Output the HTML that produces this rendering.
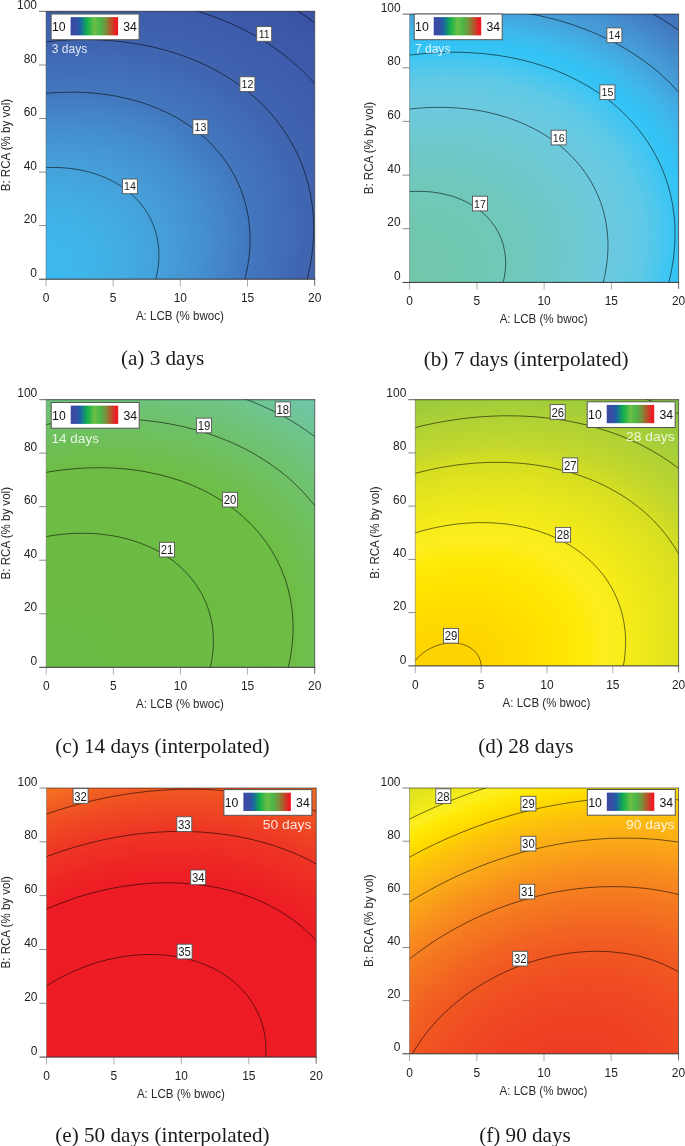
<!DOCTYPE html>
<html><head><meta charset="utf-8"><title>Contour plots</title>
<style>
html,body{margin:0;padding:0;background:#fff}
svg{display:block;will-change:transform}
text{font-family:"Liberation Sans",sans-serif;fill:#222}
.t{font-size:13px}
.b{fill:#1c1c1c}
.a{font-size:12.7px;fill:#2a2a2a}
.l{font-size:13.2px;fill:#111}
.d{fill:#fff;fill-opacity:.84}
.c{font-family:"Liberation Serif",serif;font-size:21.15px;fill:#1a1a1a}
</style></head><body>
<svg width="685" height="1146" viewBox="0 0 685 1146">
<defs><linearGradient id="lg" x1="0" x2="1" y1="0" y2="0"><stop offset="0" stop-color="#3a4aa4"/><stop offset="0.12" stop-color="#394da5"/><stop offset="0.2" stop-color="#1b62a6"/><stop offset="0.35" stop-color="#12b04b"/><stop offset="0.5" stop-color="#6cbf45"/><stop offset="0.62" stop-color="#4bb648"/><stop offset="0.74" stop-color="#7a8f3b"/><stop offset="0.85" stop-color="#b5542a"/><stop offset="0.95" stop-color="#ec1c24"/><stop offset="1" stop-color="#ec1c24"/></linearGradient><radialGradient id="ga" gradientUnits="userSpaceOnUse" cx="0" cy="0" r="1" gradientTransform="matrix(-382.3824 167.8018 -126.8699 -287.1743 25.157 277.858)"><stop offset="0.0000" stop-color="#3cb9ed"/><stop offset="0.0975" stop-color="#3eb8ec"/><stop offset="0.1862" stop-color="#40b2e8"/><stop offset="0.2447" stop-color="#42ace3"/><stop offset="0.2916" stop-color="#44a6de"/><stop offset="0.3320" stop-color="#46a0da"/><stop offset="0.3679" stop-color="#469bd6"/><stop offset="0.4007" stop-color="#4596d3"/><stop offset="0.4310" stop-color="#4491d0"/><stop offset="0.4593" stop-color="#448ccc"/><stop offset="0.4859" stop-color="#4486c8"/><stop offset="0.5111" stop-color="#4381c5"/><stop offset="0.5352" stop-color="#427cc2"/><stop offset="0.5582" stop-color="#4277be"/><stop offset="0.5803" stop-color="#4274bc"/><stop offset="0.6016" stop-color="#4172ba"/><stop offset="0.6222" stop-color="#416fb8"/><stop offset="0.6421" stop-color="#416cb6"/><stop offset="0.6614" stop-color="#416ab4"/><stop offset="0.6802" stop-color="#4067b2"/><stop offset="0.6948" stop-color="#4065b0"/><stop offset="0.6985" stop-color="#4065b0"/><stop offset="0.7162" stop-color="#4064af"/><stop offset="0.7336" stop-color="#3f63af"/><stop offset="0.7506" stop-color="#3f62ae"/><stop offset="0.7672" stop-color="#3f60ad"/><stop offset="0.7834" stop-color="#3e5fad"/><stop offset="0.7993" stop-color="#3e5eac"/><stop offset="0.8149" stop-color="#3e5dab"/><stop offset="0.8302" stop-color="#3d5cab"/><stop offset="0.8452" stop-color="#3d5baa"/><stop offset="0.8600" stop-color="#3d5aa9"/><stop offset="0.8745" stop-color="#3c59a8"/><stop offset="0.8888" stop-color="#3c58a8"/><stop offset="0.9028" stop-color="#3c57a7"/><stop offset="0.9167" stop-color="#3b56a6"/><stop offset="0.9303" stop-color="#3b55a6"/><stop offset="0.9437" stop-color="#3a54a5"/><stop offset="0.9570" stop-color="#3a53a4"/><stop offset="0.9700" stop-color="#3a53a4"/><stop offset="0.9829" stop-color="#3a52a4"/><stop offset="0.9957" stop-color="#3a52a4"/><stop offset="1.0000" stop-color="#3a52a4"/></radialGradient><clipPath id="ca"><rect x="46.0" y="11.4" width="268.7" height="267.8"/></clipPath><radialGradient id="gb" gradientUnits="userSpaceOnUse" cx="0" cy="0" r="1" gradientTransform="matrix(-381.7987 164.2351 -123.5225 -285.6614 395.524 281.766)"><stop offset="0.0000" stop-color="#70c7aa"/><stop offset="0.1552" stop-color="#70c7af"/><stop offset="0.2230" stop-color="#70c8b4"/><stop offset="0.2745" stop-color="#70c8b9"/><stop offset="0.3177" stop-color="#70c8be"/><stop offset="0.3558" stop-color="#6fc8c2"/><stop offset="0.3901" stop-color="#6ec8c7"/><stop offset="0.4217" stop-color="#6ec8cc"/><stop offset="0.4510" stop-color="#6ec9d0"/><stop offset="0.4786" stop-color="#6dc9d5"/><stop offset="0.5046" stop-color="#6cc9d9"/><stop offset="0.5294" stop-color="#6cc9de"/><stop offset="0.5531" stop-color="#69c9e0"/><stop offset="0.5758" stop-color="#66c9e2"/><stop offset="0.5976" stop-color="#62c9e4"/><stop offset="0.6186" stop-color="#5fc9e6"/><stop offset="0.6390" stop-color="#55c8ea"/><stop offset="0.6588" stop-color="#4cc7ee"/><stop offset="0.6779" stop-color="#42c6f2"/><stop offset="0.6817" stop-color="#40c6f3"/><stop offset="0.6966" stop-color="#3ac5f3"/><stop offset="0.7147" stop-color="#33c3f4"/><stop offset="0.7183" stop-color="#32c3f4"/><stop offset="0.7324" stop-color="#35c0f2"/><stop offset="0.7497" stop-color="#3abcef"/><stop offset="0.7666" stop-color="#3eb8ec"/><stop offset="0.7831" stop-color="#40b2e8"/><stop offset="0.7993" stop-color="#42ace3"/><stop offset="0.8152" stop-color="#44a6de"/><stop offset="0.8307" stop-color="#46a0da"/><stop offset="0.8460" stop-color="#469bd6"/><stop offset="0.8610" stop-color="#4596d3"/><stop offset="0.8758" stop-color="#4491d0"/><stop offset="0.8903" stop-color="#448ccc"/><stop offset="0.9045" stop-color="#4486c8"/><stop offset="0.9186" stop-color="#4381c5"/><stop offset="0.9324" stop-color="#427cc2"/><stop offset="0.9461" stop-color="#4277be"/><stop offset="0.9595" stop-color="#4274bc"/><stop offset="0.9728" stop-color="#4172ba"/><stop offset="0.9858" stop-color="#416fb8"/><stop offset="0.9988" stop-color="#416cb6"/><stop offset="1.0000" stop-color="#416cb6"/></radialGradient><clipPath id="cb"><rect x="409.6" y="14.1" width="269.0" height="268.3"/></clipPath><radialGradient id="gc" gradientUnits="userSpaceOnUse" cx="0" cy="0" r="1" gradientTransform="matrix(-373.7449 161.1816 -121.6827 -280.4767 48.475 669.001)"><stop offset="0.0000" stop-color="#6bbc44"/><stop offset="0.1331" stop-color="#6bbc44"/><stop offset="0.2100" stop-color="#6cbc44"/><stop offset="0.2655" stop-color="#6cbc44"/><stop offset="0.3113" stop-color="#6cbc44"/><stop offset="0.3511" stop-color="#6cbc44"/><stop offset="0.3869" stop-color="#6cbc44"/><stop offset="0.4196" stop-color="#6cbc44"/><stop offset="0.4500" stop-color="#6dbd45"/><stop offset="0.4784" stop-color="#6dbd45"/><stop offset="0.5052" stop-color="#6dbd45"/><stop offset="0.5307" stop-color="#6dbd45"/><stop offset="0.5550" stop-color="#6dbd45"/><stop offset="0.5783" stop-color="#6ebd45"/><stop offset="0.6007" stop-color="#6ebd45"/><stop offset="0.6223" stop-color="#6ebd45"/><stop offset="0.6431" stop-color="#6ebe4a"/><stop offset="0.6633" stop-color="#6ebe4e"/><stop offset="0.6829" stop-color="#6ebe52"/><stop offset="0.7020" stop-color="#6ebf57"/><stop offset="0.7205" stop-color="#6fc05c"/><stop offset="0.7386" stop-color="#6fc060"/><stop offset="0.7563" stop-color="#6fc064"/><stop offset="0.7735" stop-color="#6fc169"/><stop offset="0.7904" stop-color="#6fc26e"/><stop offset="0.8069" stop-color="#6fc273"/><stop offset="0.8231" stop-color="#6fc278"/><stop offset="0.8390" stop-color="#6fc37d"/><stop offset="0.8546" stop-color="#6fc482"/><stop offset="0.8699" stop-color="#6fc487"/><stop offset="0.8849" stop-color="#6fc48c"/><stop offset="0.8997" stop-color="#6fc591"/><stop offset="0.9143" stop-color="#6fc596"/><stop offset="0.9286" stop-color="#6fc69b"/><stop offset="0.9427" stop-color="#6fc6a0"/><stop offset="0.9566" stop-color="#70c6a5"/><stop offset="0.9703" stop-color="#70c7aa"/><stop offset="0.9838" stop-color="#70c7af"/><stop offset="0.9971" stop-color="#70c8b4"/><stop offset="1.0000" stop-color="#70c8b5"/></radialGradient><clipPath id="cc"><rect x="46.2" y="399.6" width="268.5" height="267.7"/></clipPath><radialGradient id="gd" gradientUnits="userSpaceOnUse" cx="0" cy="0" r="1" gradientTransform="matrix(-358.9997 156.4907 -116.1916 -272.6597 444.581 673.427)"><stop offset="0.0000" stop-color="#ffd201"/><stop offset="0.0970" stop-color="#ffd400"/><stop offset="0.1923" stop-color="#ffda00"/><stop offset="0.2541" stop-color="#ffe000"/><stop offset="0.2750" stop-color="#ffe200"/><stop offset="0.3036" stop-color="#ffe402"/><stop offset="0.3461" stop-color="#ffe805"/><stop offset="0.3617" stop-color="#ffea06"/><stop offset="0.3839" stop-color="#feeb0e"/><stop offset="0.4183" stop-color="#fded1c"/><stop offset="0.4313" stop-color="#fcee21"/><stop offset="0.4501" stop-color="#faed1e"/><stop offset="0.4798" stop-color="#f7ec19"/><stop offset="0.5077" stop-color="#f3ea1a"/><stop offset="0.5342" stop-color="#eee81a"/><stop offset="0.5594" stop-color="#eae71b"/><stop offset="0.5836" stop-color="#e6e51c"/><stop offset="0.6067" stop-color="#e2e31e"/><stop offset="0.6291" stop-color="#dee21f"/><stop offset="0.6506" stop-color="#d9e020"/><stop offset="0.6715" stop-color="#d5de22"/><stop offset="0.6917" stop-color="#cfdc26"/><stop offset="0.7114" stop-color="#c8d929"/><stop offset="0.7306" stop-color="#c2d72d"/><stop offset="0.7313" stop-color="#c2d72d"/><stop offset="0.7492" stop-color="#bed62f"/><stop offset="0.7674" stop-color="#bad530"/><stop offset="0.7852" stop-color="#b6d332"/><stop offset="0.8025" stop-color="#b2d234"/><stop offset="0.8196" stop-color="#aed135"/><stop offset="0.8362" stop-color="#aad037"/><stop offset="0.8526" stop-color="#a6ce39"/><stop offset="0.8686" stop-color="#a2cd3a"/><stop offset="0.8843" stop-color="#9ecc3c"/><stop offset="0.8998" stop-color="#9acb3d"/><stop offset="0.9150" stop-color="#96c93d"/><stop offset="0.9300" stop-color="#92c83e"/><stop offset="0.9447" stop-color="#8ec73f"/><stop offset="0.9505" stop-color="#8cc63f"/><stop offset="0.9592" stop-color="#8ac53f"/><stop offset="0.9735" stop-color="#86c440"/><stop offset="0.9875" stop-color="#82c340"/><stop offset="1.0000" stop-color="#7ec241"/></radialGradient><clipPath id="cd"><rect x="415.3" y="399.6" width="263.3" height="266.3"/></clipPath><radialGradient id="ge" gradientUnits="userSpaceOnUse" cx="0" cy="0" r="1" gradientTransform="matrix(-365.1432 157.3227 -119.2282 -275.4968 120.979 1074.195)"><stop offset="0.0000" stop-color="#ed1c24"/><stop offset="0.0625" stop-color="#ed1c24"/><stop offset="0.1778" stop-color="#ed1c24"/><stop offset="0.2435" stop-color="#ed1c24"/><stop offset="0.2950" stop-color="#ed1c24"/><stop offset="0.3387" stop-color="#ed1c24"/><stop offset="0.3773" stop-color="#ed1c24"/><stop offset="0.4124" stop-color="#ed1c24"/><stop offset="0.4447" stop-color="#ed1c24"/><stop offset="0.4748" stop-color="#ed1c24"/><stop offset="0.5032" stop-color="#ed1c24"/><stop offset="0.5300" stop-color="#ed1c24"/><stop offset="0.5555" stop-color="#ed1c24"/><stop offset="0.5799" stop-color="#ed1c24"/><stop offset="0.6033" stop-color="#ed1c24"/><stop offset="0.6258" stop-color="#ed1f24"/><stop offset="0.6476" stop-color="#ed2224"/><stop offset="0.6686" stop-color="#ed2524"/><stop offset="0.6890" stop-color="#ee2824"/><stop offset="0.7088" stop-color="#ee2c24"/><stop offset="0.7281" stop-color="#ee2f24"/><stop offset="0.7469" stop-color="#ee3224"/><stop offset="0.7652" stop-color="#ee3524"/><stop offset="0.7831" stop-color="#ee3924"/><stop offset="0.8006" stop-color="#ee3e24"/><stop offset="0.8177" stop-color="#ef4223"/><stop offset="0.8344" stop-color="#ef4623"/><stop offset="0.8509" stop-color="#ef4a23"/><stop offset="0.8670" stop-color="#f04e22"/><stop offset="0.8828" stop-color="#f05322"/><stop offset="0.8984" stop-color="#f05722"/><stop offset="0.9137" stop-color="#f15c22"/><stop offset="0.9287" stop-color="#f26122"/><stop offset="0.9435" stop-color="#f26621"/><stop offset="0.9581" stop-color="#f36c21"/><stop offset="0.9724" stop-color="#f47121"/><stop offset="0.9865" stop-color="#f47620"/><stop offset="1.0000" stop-color="#f57b20"/></radialGradient><clipPath id="ce"><rect x="46.5" y="788.0" width="269.7" height="269.1"/></clipPath><radialGradient id="gf" gradientUnits="userSpaceOnUse" cx="0" cy="0" r="1" gradientTransform="matrix(-421.8477 181.9340 -138.7859 -314.1902 562.537 1088.397)"><stop offset="0.0000" stop-color="#ee3a24"/><stop offset="0.1331" stop-color="#ee3e24"/><stop offset="0.1963" stop-color="#ef4223"/><stop offset="0.2436" stop-color="#ef4623"/><stop offset="0.2831" stop-color="#ef4a23"/><stop offset="0.3177" stop-color="#f04e22"/><stop offset="0.3489" stop-color="#f05322"/><stop offset="0.3775" stop-color="#f05722"/><stop offset="0.4041" stop-color="#f15c22"/><stop offset="0.4291" stop-color="#f26122"/><stop offset="0.4527" stop-color="#f26621"/><stop offset="0.4751" stop-color="#f36c21"/><stop offset="0.4965" stop-color="#f47121"/><stop offset="0.5171" stop-color="#f47620"/><stop offset="0.5368" stop-color="#f57b20"/><stop offset="0.5558" stop-color="#f68020"/><stop offset="0.5742" stop-color="#f7861f"/><stop offset="0.5921" stop-color="#f78b1e"/><stop offset="0.6094" stop-color="#f8901d"/><stop offset="0.6262" stop-color="#f8961c"/><stop offset="0.6426" stop-color="#f99c1a"/><stop offset="0.6586" stop-color="#faa119"/><stop offset="0.6742" stop-color="#faa618"/><stop offset="0.6895" stop-color="#fbac17"/><stop offset="0.7044" stop-color="#fbb015"/><stop offset="0.7190" stop-color="#fcb512"/><stop offset="0.7333" stop-color="#fcb910"/><stop offset="0.7474" stop-color="#fcbe0e"/><stop offset="0.7612" stop-color="#fdc20b"/><stop offset="0.7693" stop-color="#fdc50a"/><stop offset="0.7747" stop-color="#fdc808"/><stop offset="0.7880" stop-color="#fece04"/><stop offset="0.8011" stop-color="#ffd400"/><stop offset="0.8140" stop-color="#ffda00"/><stop offset="0.8267" stop-color="#ffe000"/><stop offset="0.8317" stop-color="#ffe200"/><stop offset="0.8392" stop-color="#ffe402"/><stop offset="0.8515" stop-color="#ffe805"/><stop offset="0.8563" stop-color="#ffea06"/><stop offset="0.8636" stop-color="#feeb0e"/><stop offset="0.8756" stop-color="#fded1c"/><stop offset="0.8803" stop-color="#fcee21"/><stop offset="0.8874" stop-color="#faed1e"/><stop offset="0.8990" stop-color="#f7ec19"/><stop offset="0.9105" stop-color="#f3ea1a"/><stop offset="0.9219" stop-color="#eee81a"/><stop offset="0.9331" stop-color="#eae71b"/><stop offset="0.9442" stop-color="#e6e51c"/><stop offset="0.9551" stop-color="#e2e31e"/><stop offset="0.9659" stop-color="#dee21f"/><stop offset="0.9766" stop-color="#d9e020"/><stop offset="0.9872" stop-color="#d5de22"/><stop offset="0.9977" stop-color="#cfdc26"/><stop offset="1.0000" stop-color="#cddb26"/></radialGradient><clipPath id="cf"><rect x="409.5" y="788.0" width="269.0" height="265.8"/></clipPath></defs>
<rect width="685" height="1146" fill="#fff"/>
<g><rect x="46.0" y="11.4" width="268.7" height="267.8" fill="url(#ga)"/><g clip-path="url(#ca)"><path d="M-340.8 438.4 L-343.8 431.2 L-346.6 423.8 L-349.2 416.4 L-351.5 408.8 L-353.5 401.2 L-355.3 393.5 L-356.8 385.7 L-358.0 377.8 L-359.0 369.8 L-359.7 361.8 L-360.2 353.8 L-360.4 345.7 L-360.3 337.5 L-360.0 329.3 L-359.4 321.0 L-358.5 312.8 L-357.4 304.5 L-356.0 296.2 L-354.4 287.8 L-352.5 279.5 L-350.3 271.2 L-347.9 262.9 L-345.2 254.5 L-342.3 246.2 L-339.1 238.0 L-335.6 229.7 L-332.0 221.5 L-328.0 213.3 L-323.9 205.2 L-319.4 197.1 L-314.8 189.0 L-309.9 181.1 L-304.8 173.2 L-299.5 165.3 L-293.9 157.6 L-288.2 149.9 L-282.2 142.3 L-276.0 134.8 L-269.6 127.4 L-263.0 120.1 L-256.2 113.0 L-249.2 105.9 L-242.0 98.9 L-234.6 92.1 L-227.0 85.4 L-219.3 78.8 L-211.4 72.4 L-203.4 66.1 L-195.2 60.0 L-186.8 54.0 L-178.3 48.1 L-169.7 42.4 L-160.9 36.9 L-152.0 31.5 L-143.0 26.3 L-133.8 21.3 L-124.6 16.5 L-115.2 11.8 L-105.8 7.3 L-96.3 3.0 L-86.6 -1.1 L-76.9 -5.0 L-67.2 -8.7 L-57.3 -12.2 L-47.5 -15.6 L-37.5 -18.7 L-27.5 -21.6 L-17.5 -24.3 L-7.5 -26.9 L2.6 -29.2 L12.7 -31.3 L22.8 -33.1 L32.9 -34.8 L42.9 -36.3 L53.0 -37.5 L63.1 -38.5 L73.1 -39.3 L83.1 -39.9 L93.1 -40.3 L103.0 -40.4 L112.8 -40.4 L122.6 -40.1 L132.4 -39.6 L142.0 -38.9 L151.6 -37.9 L161.1 -36.8 L170.5 -35.4 L179.8 -33.8 L189.0 -32.0 L198.1 -30.0 L207.0 -27.8 L215.9 -25.4 L224.6 -22.7 L233.1 -19.9 L241.6 -16.8 L249.8 -13.6 L258.0 -10.1 L265.9 -6.5 L273.7 -2.7 L281.4 1.4 L288.8 5.6 L296.1 10.0 L303.2 14.6 L310.1 19.4 L316.8 24.3 L323.3 29.5 L329.6 34.7 L335.7 40.2 L341.5 45.8 L347.2 51.6 L352.6 57.6 L357.8 63.6 L362.8 69.9 L367.6 76.3 L372.1 82.8 L376.4 89.4 L380.4 96.2 L384.2 103.1 L387.8 110.1 L391.1 117.3 L394.1 124.5 L396.9 131.9 L399.5 139.3 L401.8 146.9 L403.8 154.5 L405.6 162.2 L407.1 170.0 L408.3 177.9 L409.3 185.9 L410.0 193.9 L410.5 201.9 L410.7 210.1 L410.6 218.2 L410.3 226.4 L409.7 234.7 L408.8 242.9 L407.7 251.2 L406.3 259.5 L404.7 267.9 L402.8 276.2 L400.6 284.5 L398.2 292.9 L395.5 301.2 L392.6 309.5 L389.4 317.8 L385.9 326.0 L382.3 334.2 L378.3 342.4 L374.2 350.5 L369.8 358.6 L365.1 366.7 L360.2 374.6 L355.1 382.5 L349.8 390.4 L344.2 398.1 L338.5 405.8 L332.5 413.4 L326.3 420.9 L319.9 428.3 L313.3 435.6 L306.5 442.8 L299.5 449.8 L292.3 456.8 L284.9 463.6 L277.4 470.3 L269.6 476.9 L261.8 483.3 L253.7 489.6 L245.5 495.8 L237.1 501.8 L228.6 507.6 L220.0 513.3 L211.2 518.8 L202.3 524.2 L193.3 529.4 L184.2 534.4 L174.9 539.2 L165.6 543.9 L156.1 548.4 L146.6 552.7 L136.9 556.8 L127.3 560.7 L117.5 564.4 L107.7 568.0 L97.8 571.3 L87.8 574.4 L77.8 577.3 L67.8 580.1 L57.8 582.6 L47.7 584.9 L37.6 587.0 L27.5 588.9 L17.5 590.5 L7.4 592.0 L-2.7 593.2 L-12.8 594.2 L-22.8 595.0 L-32.8 595.6 L-42.8 596.0 L-52.7 596.2 L-62.5 596.1 L-72.3 595.8 L-82.1 595.3 L-91.7 594.6 L-101.3 593.6 L-110.8 592.5 L-120.2 591.1 L-129.5 589.5 L-138.7 587.7 L-147.7 585.7 L-156.7 583.5 L-165.5 581.1 L-174.2 578.4 L-182.8 575.6 L-191.2 572.6 L-199.5 569.3 L-207.6 565.9 L-215.6 562.2 L-223.4 558.4 L-231.0 554.3 L-238.5 550.1 L-245.8 545.7 L-252.9 541.1 L-259.8 536.3 L-266.5 531.4 L-273.0 526.3 L-279.3 521.0 L-285.3 515.5 L-291.2 509.9 L-296.9 504.1 L-302.3 498.2 L-307.5 492.1 L-312.5 485.8 L-317.3 479.5 L-321.8 472.9 L-326.1 466.3 L-330.1 459.5 L-333.9 452.6 L-337.5 445.6 L-340.8 438.4Z M-298.0 419.7 L-300.7 413.3 L-303.2 406.8 L-305.5 400.2 L-307.5 393.5 L-309.3 386.8 L-310.8 380.0 L-312.2 373.1 L-313.3 366.1 L-314.1 359.1 L-314.8 352.0 L-315.2 344.9 L-315.4 337.7 L-315.3 330.5 L-315.0 323.3 L-314.5 316.0 L-313.7 308.7 L-312.7 301.4 L-311.5 294.0 L-310.0 286.7 L-308.4 279.3 L-306.4 272.0 L-304.3 264.6 L-301.9 257.3 L-299.3 249.9 L-296.5 242.6 L-293.5 235.3 L-290.3 228.1 L-286.8 220.8 L-283.1 213.7 L-279.2 206.5 L-275.1 199.4 L-270.8 192.4 L-266.3 185.4 L-261.6 178.5 L-256.7 171.6 L-251.6 164.9 L-246.3 158.2 L-240.8 151.5 L-235.1 145.0 L-229.3 138.6 L-223.3 132.2 L-217.1 126.0 L-210.8 119.8 L-204.3 113.8 L-197.6 107.9 L-190.8 102.1 L-183.8 96.4 L-176.7 90.8 L-169.5 85.4 L-162.1 80.1 L-154.6 74.9 L-146.9 69.9 L-139.2 65.0 L-131.3 60.3 L-123.3 55.7 L-115.3 51.3 L-107.1 47.0 L-98.8 42.9 L-90.5 38.9 L-82.1 35.1 L-73.6 31.5 L-65.0 28.0 L-56.4 24.8 L-47.7 21.6 L-39.0 18.7 L-30.2 15.9 L-21.4 13.3 L-12.5 10.9 L-3.7 8.7 L5.2 6.7 L14.1 4.8 L23.0 3.2 L32.0 1.7 L40.9 0.4 L49.8 -0.7 L58.7 -1.6 L67.5 -2.3 L76.3 -2.8 L85.1 -3.1 L93.9 -3.3 L102.6 -3.2 L111.3 -3.0 L119.8 -2.5 L128.4 -1.9 L136.8 -1.1 L145.2 -0.0 L153.5 1.2 L161.7 2.6 L169.8 4.2 L177.9 5.9 L185.8 7.9 L193.6 10.0 L201.3 12.4 L208.8 14.9 L216.3 17.6 L223.6 20.4 L230.8 23.5 L237.8 26.7 L244.7 30.1 L251.4 33.7 L258.0 37.4 L264.4 41.3 L270.7 45.3 L276.8 49.6 L282.7 53.9 L288.5 58.5 L294.0 63.1 L299.4 68.0 L304.6 72.9 L309.6 78.0 L314.4 83.3 L319.0 88.7 L323.4 94.2 L327.6 99.8 L331.6 105.6 L335.4 111.4 L338.9 117.4 L342.3 123.5 L345.4 129.7 L348.4 136.0 L351.1 142.4 L353.5 148.9 L355.8 155.5 L357.8 162.2 L359.6 168.9 L361.2 175.7 L362.5 182.6 L363.6 189.6 L364.5 196.6 L365.1 203.7 L365.5 210.8 L365.7 218.0 L365.6 225.2 L365.3 232.4 L364.8 239.7 L364.0 247.0 L363.0 254.3 L361.8 261.7 L360.4 269.0 L358.7 276.4 L356.8 283.8 L354.6 291.1 L352.3 298.5 L349.7 305.8 L346.8 313.1 L343.8 320.4 L340.6 327.6 L337.1 334.9 L333.4 342.1 L329.5 349.2 L325.4 356.3 L321.1 363.3 L316.6 370.3 L311.9 377.2 L307.0 384.1 L301.9 390.9 L296.6 397.6 L291.1 404.2 L285.5 410.7 L279.6 417.2 L273.6 423.5 L267.4 429.7 L261.1 435.9 L254.6 441.9 L247.9 447.8 L241.1 453.6 L234.1 459.3 L227.0 464.9 L219.8 470.3 L212.4 475.6 L204.9 480.8 L197.2 485.8 L189.5 490.7 L181.6 495.4 L173.7 500.0 L165.6 504.4 L157.4 508.7 L149.2 512.8 L140.8 516.8 L132.4 520.6 L123.9 524.2 L115.3 527.7 L106.7 531.0 L98.0 534.1 L89.3 537.0 L80.5 539.8 L71.7 542.4 L62.9 544.8 L54.0 547.0 L45.1 549.0 L36.2 550.9 L27.3 552.5 L18.4 554.0 L9.4 555.3 L0.5 556.4 L-8.3 557.3 L-17.2 558.0 L-26.0 558.5 L-34.8 558.8 L-43.6 559.0 L-52.3 558.9 L-60.9 558.7 L-69.5 558.2 L-78.1 557.6 L-86.5 556.8 L-94.9 555.8 L-103.2 554.5 L-111.4 553.1 L-119.5 551.6 L-127.6 549.8 L-135.5 547.8 L-143.3 545.7 L-151.0 543.3 L-158.5 540.8 L-166.0 538.1 L-173.3 535.3 L-180.5 532.2 L-187.5 529.0 L-194.4 525.6 L-201.1 522.1 L-207.7 518.3 L-214.1 514.4 L-220.4 510.4 L-226.5 506.2 L-232.4 501.8 L-238.1 497.3 L-243.7 492.6 L-249.1 487.8 L-254.3 482.8 L-259.3 477.7 L-264.1 472.4 L-268.7 467.1 L-273.1 461.5 L-277.3 455.9 L-281.3 450.2 L-285.1 444.3 L-288.6 438.3 L-292.0 432.2 L-295.1 426.0 L-298.0 419.7Z M-248.7 398.0 L-251.0 392.6 L-253.1 387.1 L-255.0 381.5 L-256.7 375.9 L-258.2 370.2 L-259.6 364.4 L-260.7 358.5 L-261.6 352.7 L-262.4 346.7 L-262.9 340.7 L-263.3 334.7 L-263.4 328.6 L-263.3 322.5 L-263.1 316.4 L-262.7 310.2 L-262.0 304.0 L-261.2 297.8 L-260.1 291.6 L-258.9 285.3 L-257.5 279.1 L-255.8 272.9 L-254.0 266.6 L-252.0 260.4 L-249.8 254.2 L-247.4 248.0 L-244.9 241.8 L-242.1 235.7 L-239.2 229.5 L-236.1 223.5 L-232.8 217.4 L-229.3 211.4 L-225.6 205.4 L-221.8 199.5 L-217.8 193.6 L-213.7 187.8 L-209.3 182.1 L-204.9 176.4 L-200.2 170.8 L-195.4 165.3 L-190.5 159.8 L-185.4 154.4 L-180.1 149.2 L-174.8 143.9 L-169.3 138.8 L-163.6 133.8 L-157.8 128.9 L-151.9 124.1 L-145.9 119.4 L-139.8 114.8 L-133.5 110.3 L-127.1 105.9 L-120.7 101.7 L-114.1 97.5 L-107.4 93.5 L-100.7 89.6 L-93.8 85.9 L-86.9 82.2 L-79.9 78.7 L-72.9 75.4 L-65.7 72.2 L-58.5 69.1 L-51.3 66.2 L-43.9 63.4 L-36.6 60.7 L-29.2 58.2 L-21.8 55.9 L-14.3 53.7 L-6.8 51.7 L0.7 49.8 L8.3 48.1 L15.8 46.5 L23.4 45.1 L30.9 43.8 L38.5 42.8 L46.0 41.8 L53.5 41.1 L61.0 40.5 L68.5 40.0 L76.0 39.7 L83.4 39.6 L90.8 39.7 L98.1 39.9 L105.4 40.3 L112.6 40.8 L119.8 41.5 L126.9 42.4 L133.9 43.4 L140.9 44.6 L147.8 45.9 L154.6 47.4 L161.3 49.1 L167.9 50.9 L174.4 52.9 L180.8 55.0 L187.1 57.3 L193.3 59.7 L199.4 62.3 L205.4 65.0 L211.2 67.9 L216.9 70.9 L222.5 74.1 L227.9 77.4 L233.2 80.8 L238.4 84.4 L243.4 88.1 L248.3 91.9 L253.0 95.9 L257.6 100.0 L262.0 104.2 L266.2 108.5 L270.3 113.0 L274.2 117.5 L277.9 122.2 L281.5 127.0 L284.8 131.9 L288.0 136.8 L291.1 141.9 L293.9 147.1 L296.6 152.3 L299.0 157.7 L301.3 163.1 L303.4 168.6 L305.3 174.2 L307.0 179.8 L308.6 185.5 L309.9 191.3 L311.0 197.2 L311.9 203.1 L312.7 209.0 L313.2 215.0 L313.6 221.0 L313.7 227.1 L313.7 233.2 L313.4 239.4 L313.0 245.5 L312.3 251.7 L311.5 257.9 L310.4 264.2 L309.2 270.4 L307.8 276.6 L306.2 282.9 L304.3 289.1 L302.3 295.3 L300.1 301.5 L297.8 307.7 L295.2 313.9 L292.4 320.1 L289.5 326.2 L286.4 332.3 L283.1 338.3 L279.6 344.3 L275.9 350.3 L272.1 356.2 L268.1 362.1 L264.0 367.9 L259.7 373.6 L255.2 379.3 L250.5 384.9 L245.7 390.4 L240.8 395.9 L235.7 401.3 L230.5 406.6 L225.1 411.8 L219.6 416.9 L213.9 421.9 L208.1 426.8 L202.2 431.6 L196.2 436.3 L190.1 440.9 L183.8 445.4 L177.5 449.8 L171.0 454.1 L164.4 458.2 L157.8 462.2 L151.0 466.1 L144.2 469.9 L137.2 473.5 L130.2 477.0 L123.2 480.3 L116.0 483.5 L108.8 486.6 L101.6 489.6 L94.3 492.3 L86.9 495.0 L79.5 497.5 L72.1 499.8 L64.6 502.0 L57.1 504.0 L49.6 505.9 L42.0 507.6 L34.5 509.2 L26.9 510.6 L19.4 511.9 L11.8 513.0 L4.3 513.9 L-3.2 514.6 L-10.7 515.3 L-18.2 515.7 L-25.7 516.0 L-33.1 516.1 L-40.5 516.0 L-47.8 515.8 L-55.1 515.4 L-62.3 514.9 L-69.5 514.2 L-76.6 513.3 L-83.6 512.3 L-90.6 511.1 L-97.5 509.8 L-104.3 508.3 L-111.0 506.6 L-117.6 504.8 L-124.1 502.8 L-130.5 500.7 L-136.8 498.4 L-143.0 496.0 L-149.1 493.4 L-155.0 490.7 L-160.9 487.8 L-166.6 484.8 L-172.2 481.6 L-177.6 478.3 L-182.9 474.9 L-188.1 471.3 L-193.1 467.6 L-198.0 463.8 L-202.7 459.8 L-207.2 455.7 L-211.6 451.5 L-215.9 447.2 L-219.9 442.7 L-223.8 438.2 L-227.6 433.5 L-231.1 428.7 L-234.5 423.9 L-237.7 418.9 L-240.8 413.8 L-243.6 408.6 L-246.3 403.4 L-248.7 398.0Z M-188.3 371.5 L-190.1 367.3 L-191.7 363.0 L-193.2 358.7 L-194.5 354.3 L-195.7 349.8 L-196.7 345.3 L-197.6 340.7 L-198.4 336.2 L-198.9 331.5 L-199.4 326.8 L-199.6 322.1 L-199.7 317.4 L-199.7 312.6 L-199.5 307.9 L-199.2 303.1 L-198.6 298.2 L-198.0 293.4 L-197.2 288.5 L-196.2 283.7 L-195.1 278.8 L-193.8 274.0 L-192.4 269.1 L-190.9 264.3 L-189.2 259.4 L-187.3 254.6 L-185.3 249.8 L-183.2 245.0 L-180.9 240.2 L-178.4 235.5 L-175.9 230.7 L-173.1 226.1 L-170.3 221.4 L-167.3 216.8 L-164.2 212.2 L-161.0 207.7 L-157.6 203.2 L-154.1 198.8 L-150.5 194.4 L-146.8 190.1 L-142.9 185.9 L-138.9 181.7 L-134.9 177.5 L-130.7 173.5 L-126.4 169.5 L-122.0 165.6 L-117.5 161.8 L-112.9 158.0 L-108.2 154.3 L-103.4 150.8 L-98.5 147.3 L-93.5 143.8 L-88.5 140.5 L-83.4 137.3 L-78.2 134.2 L-72.9 131.1 L-67.6 128.2 L-62.2 125.4 L-56.7 122.7 L-51.2 120.1 L-45.7 117.6 L-40.1 115.2 L-34.4 112.9 L-28.7 110.7 L-23.0 108.6 L-17.2 106.7 L-11.4 104.9 L-5.6 103.2 L0.3 101.6 L6.1 100.1 L12.0 98.8 L17.9 97.5 L23.8 96.5 L29.6 95.5 L35.5 94.6 L41.4 93.9 L47.3 93.3 L53.1 92.8 L59.0 92.5 L64.8 92.3 L70.6 92.2 L76.3 92.2 L82.0 92.4 L87.7 92.7 L93.3 93.1 L98.9 93.7 L104.4 94.3 L109.9 95.1 L115.4 96.0 L120.7 97.1 L126.0 98.3 L131.2 99.6 L136.4 101.0 L141.5 102.5 L146.5 104.2 L151.4 106.0 L156.2 107.9 L161.0 109.9 L165.6 112.0 L170.2 114.2 L174.6 116.6 L179.0 119.0 L183.2 121.6 L187.3 124.3 L191.4 127.1 L195.3 130.0 L199.1 133.0 L202.7 136.0 L206.3 139.2 L209.7 142.5 L213.0 145.9 L216.2 149.4 L219.2 152.9 L222.1 156.5 L224.9 160.3 L227.5 164.1 L230.0 167.9 L232.4 171.9 L234.6 175.9 L236.7 180.0 L238.6 184.2 L240.4 188.4 L242.0 192.7 L243.5 197.1 L244.8 201.5 L246.0 205.9 L247.1 210.4 L247.9 215.0 L248.7 219.6 L249.2 224.2 L249.7 228.9 L249.9 233.6 L250.0 238.3 L250.0 243.1 L249.8 247.9 L249.5 252.7 L249.0 257.5 L248.3 262.3 L247.5 267.2 L246.5 272.0 L245.4 276.9 L244.2 281.8 L242.7 286.6 L241.2 291.5 L239.5 296.3 L237.6 301.1 L235.6 305.9 L233.5 310.7 L231.2 315.5 L228.7 320.3 L226.2 325.0 L223.5 329.7 L220.6 334.3 L217.6 338.9 L214.5 343.5 L211.3 348.0 L207.9 352.5 L204.4 356.9 L200.8 361.3 L197.1 365.6 L193.2 369.9 L189.2 374.0 L185.2 378.2 L181.0 382.2 L176.7 386.2 L172.3 390.1 L167.8 393.9 L163.2 397.7 L158.5 401.4 L153.7 405.0 L148.8 408.5 L143.9 411.9 L138.8 415.2 L133.7 418.4 L128.5 421.5 L123.2 424.6 L117.9 427.5 L112.5 430.3 L107.1 433.0 L101.5 435.7 L96.0 438.2 L90.4 440.6 L84.7 442.8 L79.0 445.0 L73.3 447.1 L67.5 449.0 L61.7 450.8 L55.9 452.6 L50.1 454.1 L44.2 455.6 L38.3 456.9 L32.4 458.2 L26.6 459.3 L20.7 460.2 L14.8 461.1 L8.9 461.8 L3.0 462.4 L-2.8 462.9 L-8.6 463.2 L-14.5 463.4 L-20.2 463.5 L-26.0 463.5 L-31.7 463.3 L-37.4 463.0 L-43.0 462.6 L-48.6 462.1 L-54.1 461.4 L-59.6 460.6 L-65.0 459.7 L-70.4 458.6 L-75.7 457.4 L-80.9 456.2 L-86.1 454.7 L-91.2 453.2 L-96.2 451.5 L-101.1 449.8 L-105.9 447.9 L-110.6 445.9 L-115.3 443.7 L-119.8 441.5 L-124.3 439.1 L-128.6 436.7 L-132.9 434.1 L-137.0 431.4 L-141.0 428.6 L-144.9 425.7 L-148.7 422.8 L-152.4 419.7 L-156.0 416.5 L-159.4 413.2 L-162.7 409.8 L-165.9 406.4 L-168.9 402.8 L-171.8 399.2 L-174.6 395.5 L-177.2 391.7 L-179.7 387.8 L-182.1 383.8 L-184.3 379.8 L-186.4 375.7 L-188.3 371.5Z M-101.8 333.6 L-102.8 331.1 L-103.8 328.5 L-104.7 325.9 L-105.5 323.3 L-106.2 320.6 L-106.8 318.0 L-107.3 315.3 L-107.8 312.5 L-108.1 309.8 L-108.4 307.0 L-108.5 304.2 L-108.6 301.4 L-108.6 298.5 L-108.4 295.7 L-108.2 292.8 L-107.9 290.0 L-107.6 287.1 L-107.1 284.2 L-106.5 281.3 L-105.8 278.4 L-105.1 275.5 L-104.2 272.7 L-103.3 269.8 L-102.3 266.9 L-101.2 264.0 L-100.0 261.2 L-98.7 258.3 L-97.4 255.5 L-95.9 252.6 L-94.4 249.8 L-92.8 247.0 L-91.1 244.3 L-89.3 241.5 L-87.5 238.8 L-85.5 236.1 L-83.5 233.5 L-81.5 230.8 L-79.3 228.2 L-77.1 225.7 L-74.8 223.1 L-72.4 220.7 L-70.0 218.2 L-67.5 215.8 L-65.0 213.4 L-62.3 211.1 L-59.7 208.8 L-56.9 206.6 L-54.1 204.4 L-51.3 202.3 L-48.4 200.2 L-45.4 198.2 L-42.4 196.2 L-39.4 194.3 L-36.3 192.4 L-33.2 190.6 L-30.0 188.9 L-26.8 187.2 L-23.5 185.6 L-20.3 184.0 L-17.0 182.5 L-13.6 181.1 L-10.3 179.7 L-6.9 178.4 L-3.5 177.2 L-0.0 176.1 L3.4 175.0 L6.9 174.0 L10.4 173.0 L13.8 172.2 L17.3 171.4 L20.8 170.6 L24.3 170.0 L27.8 169.4 L31.3 168.9 L34.8 168.5 L38.3 168.1 L41.8 167.8 L45.3 167.6 L48.7 167.5 L52.2 167.4 L55.6 167.5 L59.0 167.6 L62.3 167.7 L65.7 168.0 L69.0 168.3 L72.3 168.7 L75.6 169.2 L78.8 169.7 L82.0 170.4 L85.1 171.1 L88.2 171.8 L91.3 172.7 L94.3 173.6 L97.3 174.6 L100.2 175.6 L103.1 176.8 L105.9 177.9 L108.7 179.2 L111.4 180.5 L114.0 181.9 L116.6 183.4 L119.1 184.9 L121.6 186.5 L124.0 188.2 L126.3 189.9 L128.6 191.7 L130.8 193.5 L132.9 195.4 L134.9 197.4 L136.9 199.4 L138.8 201.4 L140.6 203.5 L142.3 205.7 L143.9 207.9 L145.5 210.2 L147.0 212.5 L148.4 214.8 L149.7 217.2 L151.0 219.7 L152.1 222.2 L153.2 224.7 L154.1 227.2 L155.0 229.8 L155.8 232.4 L156.5 235.1 L157.1 237.8 L157.6 240.5 L158.1 243.2 L158.4 245.9 L158.7 248.7 L158.8 251.5 L158.9 254.3 L158.9 257.2 L158.8 260.0 L158.6 262.9 L158.3 265.7 L157.9 268.6 L157.4 271.5 L156.8 274.4 L156.2 277.3 L155.4 280.2 L154.6 283.1 L153.6 285.9 L152.6 288.8 L151.5 291.7 L150.3 294.6 L149.0 297.4 L147.7 300.3 L146.2 303.1 L144.7 305.9 L143.1 308.7 L141.4 311.4 L139.6 314.2 L137.8 316.9 L135.8 319.6 L133.8 322.2 L131.8 324.9 L129.6 327.5 L127.4 330.0 L125.1 332.6 L122.7 335.1 L120.3 337.5 L117.8 339.9 L115.3 342.3 L112.6 344.6 L110.0 346.9 L107.2 349.1 L104.4 351.3 L101.6 353.4 L98.7 355.5 L95.7 357.6 L92.7 359.5 L89.7 361.4 L86.6 363.3 L83.5 365.1 L80.3 366.8 L77.1 368.5 L73.9 370.1 L70.6 371.7 L67.3 373.2 L63.9 374.6 L60.6 376.0 L57.2 377.3 L53.8 378.5 L50.3 379.6 L46.9 380.7 L43.4 381.7 L40.0 382.7 L36.5 383.6 L33.0 384.4 L29.5 385.1 L26.0 385.7 L22.5 386.3 L19.0 386.8 L15.5 387.3 L12.0 387.6 L8.5 387.9 L5.1 388.1 L1.6 388.2 L-1.8 388.3 L-5.3 388.3 L-8.7 388.2 L-12.0 388.0 L-15.4 387.7 L-18.7 387.4 L-22.0 387.0 L-25.3 386.5 L-28.5 386.0 L-31.7 385.4 L-34.8 384.7 L-37.9 383.9 L-41.0 383.0 L-44.0 382.1 L-47.0 381.1 L-49.9 380.1 L-52.8 379.0 L-55.6 377.8 L-58.4 376.5 L-61.1 375.2 L-63.7 373.8 L-66.3 372.3 L-68.8 370.8 L-71.3 369.2 L-73.7 367.5 L-76.0 365.8 L-78.3 364.0 L-80.4 362.2 L-82.6 360.3 L-84.6 358.3 L-86.6 356.3 L-88.4 354.3 L-90.3 352.2 L-92.0 350.0 L-93.6 347.8 L-95.2 345.5 L-96.7 343.2 L-98.1 340.9 L-99.4 338.5 L-100.6 336.0 L-101.8 333.6Z" fill="none" stroke="#000" stroke-opacity="0.66" stroke-width="0.85"/></g><path d="M39.0 11.4 H315.2" stroke="#000" stroke-opacity="0.5" stroke-width="1.1" fill="none"/><path d="M314.7 11.4 V285.7" stroke="#444" stroke-opacity="0.8" stroke-width="1" fill="none"/><path d="M46.0 11.4 V279.2" stroke="#555" stroke-opacity="0.45" stroke-width="1" fill="none"/><path d="M39.0 279.2 H315.2" stroke="#333" stroke-width="1" fill="none"/><path d="M46.0 279.7 V286.4 M113.2 279.7 V286.4 M180.3 279.7 V286.4 M247.5 279.7 V286.4" stroke="#000" stroke-opacity="0.36" stroke-width="0.9" fill="none"/><path d="M39.0 225.6 H46.0 M39.0 172.1 H46.0 M39.0 118.5 H46.0 M39.0 65.0 H46.0" stroke="#000" stroke-opacity="0.5" stroke-width="0.9" fill="none"/><text transform="translate(37.00 276.80) scale(0.920 1)" text-anchor="end" class="t">0</text><text transform="translate(37.00 223.24) scale(0.920 1)" text-anchor="end" class="t">20</text><text transform="translate(37.00 169.68) scale(0.920 1)" text-anchor="end" class="t">40</text><text transform="translate(37.00 116.12) scale(0.920 1)" text-anchor="end" class="t">60</text><text transform="translate(37.00 62.56) scale(0.920 1)" text-anchor="end" class="t">80</text><text transform="translate(37.00 9.00) scale(0.920 1)" text-anchor="end" class="t">100</text><text transform="translate(46.00 301.90) scale(0.920 1)" text-anchor="middle" class="t">0</text><text transform="translate(113.17 301.90) scale(0.920 1)" text-anchor="middle" class="t">5</text><text transform="translate(180.35 301.90) scale(0.920 1)" text-anchor="middle" class="t">10</text><text transform="translate(247.52 301.90) scale(0.920 1)" text-anchor="middle" class="t">15</text><text transform="translate(314.70 301.90) scale(0.920 1)" text-anchor="middle" class="t">20</text><text transform="translate(179.85 320.10) scale(0.910 1)" text-anchor="middle" class="a">A: LCB (% bwoc)</text><text transform="translate(9.8 145.1) rotate(-90) scale(0.91 1)" text-anchor="middle" class="a">B: RCA (% by vol)</text><g clip-path="url(#ca)"><rect x="256.7" y="26.6" width="15.0" height="14.7" fill="#fff" stroke="#555" stroke-width="0.9"/></g><text transform="translate(264.20 38.10) scale(0.940 1)" text-anchor="middle" class="b" font-size="11.3">11</text><g clip-path="url(#ca)"><rect x="239.9" y="76.8" width="15.0" height="14.7" fill="#fff" stroke="#555" stroke-width="0.9"/></g><text transform="translate(247.40 88.20) scale(0.940 1)" text-anchor="middle" class="b" font-size="11.3">12</text><g clip-path="url(#ca)"><rect x="192.9" y="119.7" width="15.0" height="14.7" fill="#fff" stroke="#555" stroke-width="0.9"/></g><text transform="translate(200.40 131.10) scale(0.940 1)" text-anchor="middle" class="b" font-size="11.3">13</text><g clip-path="url(#ca)"><rect x="122.4" y="179.0" width="15.0" height="14.7" fill="#fff" stroke="#555" stroke-width="0.9"/></g><text transform="translate(129.90 190.40) scale(0.940 1)" text-anchor="middle" class="b" font-size="11.3">14</text><rect x="51.1" y="14.0" width="88" height="25.7" fill="#fff" stroke="#555" stroke-width="1"/><rect x="70.6" y="17.1" width="47.5" height="18.3" fill="url(#lg)"/><text transform="translate(52.00 31.20) scale(0.930 1)" text-anchor="start" class="l">10</text><text transform="translate(123.30 31.20) scale(0.930 1)" text-anchor="start" class="l">34</text><text transform="translate(51.80 52.70) scale(0.950 1)" text-anchor="start" class="d" font-size="12.7">3 days</text><text x="162.6" y="365.0" text-anchor="middle" class="c">(a) 3 days</text></g>
<g><rect x="409.6" y="14.1" width="269.0" height="268.3" fill="url(#gb)"/><g clip-path="url(#cb)"><path d="M34.3 437.1 L31.4 430.0 L28.7 422.8 L26.3 415.5 L24.1 408.0 L22.2 400.5 L20.5 393.0 L19.1 385.3 L17.9 377.6 L17.0 369.8 L16.4 361.9 L16.0 354.0 L15.9 346.0 L16.0 338.0 L16.4 330.0 L17.1 321.9 L18.0 313.8 L19.2 305.7 L20.6 297.5 L22.3 289.4 L24.3 281.2 L26.5 273.0 L28.9 264.9 L31.7 256.7 L34.6 248.6 L37.8 240.5 L41.3 232.4 L45.0 224.4 L48.9 216.4 L53.1 208.4 L57.5 200.5 L62.1 192.7 L67.0 184.9 L72.1 177.2 L77.4 169.5 L82.9 161.9 L88.7 154.5 L94.6 147.0 L100.8 139.7 L107.2 132.5 L113.7 125.4 L120.5 118.4 L127.4 111.5 L134.5 104.7 L141.8 98.1 L149.3 91.5 L157.0 85.1 L164.8 78.9 L172.8 72.8 L180.9 66.8 L189.2 60.9 L197.6 55.3 L206.1 49.7 L214.8 44.4 L223.6 39.1 L232.5 34.1 L241.5 29.2 L250.7 24.5 L259.9 20.0 L269.2 15.7 L278.7 11.5 L288.2 7.5 L297.7 3.7 L307.4 0.2 L317.1 -3.2 L326.8 -6.5 L336.6 -9.5 L346.4 -12.3 L356.3 -14.9 L366.2 -17.3 L376.1 -19.5 L386.1 -21.5 L396.0 -23.3 L405.9 -24.9 L415.9 -26.2 L425.8 -27.4 L435.7 -28.3 L445.6 -29.1 L455.4 -29.6 L465.2 -29.9 L474.9 -30.0 L484.6 -29.8 L494.2 -29.5 L503.8 -29.0 L513.3 -28.2 L522.7 -27.2 L532.0 -26.0 L541.2 -24.6 L550.4 -23.0 L559.4 -21.2 L568.3 -19.2 L577.1 -17.0 L585.8 -14.5 L594.3 -11.9 L602.7 -9.1 L610.9 -6.0 L619.1 -2.8 L627.0 0.6 L634.8 4.3 L642.4 8.1 L649.9 12.1 L657.2 16.3 L664.3 20.6 L671.2 25.2 L678.0 29.9 L684.5 34.8 L690.9 39.9 L697.0 45.1 L702.9 50.5 L708.7 56.0 L714.2 61.7 L719.5 67.6 L724.5 73.6 L729.4 79.7 L734.0 86.0 L738.4 92.4 L742.5 99.0 L746.4 105.7 L750.1 112.5 L753.5 119.4 L756.7 126.4 L759.7 133.5 L762.4 140.7 L764.8 148.1 L767.0 155.5 L768.9 163.0 L770.6 170.6 L772.0 178.2 L773.1 186.0 L774.0 193.8 L774.7 201.6 L775.0 209.5 L775.2 217.5 L775.0 225.5 L774.6 233.6 L774.0 241.6 L773.0 249.7 L771.9 257.9 L770.4 266.0 L768.7 274.2 L766.8 282.3 L764.6 290.5 L762.1 298.6 L759.4 306.8 L756.4 314.9 L753.2 323.0 L749.8 331.1 L746.1 339.1 L742.1 347.1 L738.0 355.1 L733.6 363.0 L728.9 370.8 L724.1 378.6 L719.0 386.4 L713.7 394.0 L708.1 401.6 L702.4 409.1 L696.4 416.5 L690.3 423.8 L683.9 431.0 L677.3 438.1 L670.6 445.1 L663.6 452.0 L656.5 458.8 L649.2 465.5 L641.7 472.0 L634.1 478.4 L626.3 484.7 L618.3 490.8 L610.2 496.8 L601.9 502.6 L593.5 508.3 L584.9 513.8 L576.3 519.2 L567.5 524.4 L558.5 529.4 L549.5 534.3 L540.4 539.0 L531.1 543.5 L521.8 547.9 L512.4 552.0 L502.9 556.0 L493.3 559.8 L483.7 563.4 L474.0 566.8 L464.2 570.0 L454.4 573.0 L444.6 575.8 L434.7 578.4 L424.8 580.8 L414.9 583.0 L405.0 585.0 L395.0 586.8 L385.1 588.4 L375.2 589.8 L365.3 590.9 L355.4 591.9 L345.5 592.6 L335.7 593.1 L325.9 593.4 L316.1 593.5 L306.4 593.4 L296.8 593.0 L287.2 592.5 L277.8 591.7 L268.3 590.8 L259.0 589.6 L249.8 588.2 L240.7 586.6 L231.7 584.8 L222.7 582.7 L214.0 580.5 L205.3 578.1 L196.8 575.4 L188.4 572.6 L180.1 569.6 L172.0 566.3 L164.0 562.9 L156.2 559.3 L148.6 555.5 L141.1 551.5 L133.8 547.3 L126.7 542.9 L119.8 538.4 L113.1 533.6 L106.5 528.7 L100.2 523.7 L94.0 518.4 L88.1 513.1 L82.4 507.5 L76.9 501.8 L71.6 495.9 L66.5 489.9 L61.7 483.8 L57.0 477.5 L52.7 471.1 L48.5 464.5 L44.6 457.9 L40.9 451.1 L37.5 444.2 L34.3 437.1Z M78.4 418.2 L75.8 411.9 L73.4 405.6 L71.3 399.2 L69.4 392.6 L67.7 386.1 L66.2 379.4 L65.0 372.7 L63.9 365.9 L63.2 359.0 L62.6 352.1 L62.3 345.2 L62.2 338.2 L62.3 331.2 L62.6 324.1 L63.2 317.0 L64.0 309.9 L65.1 302.7 L66.3 295.6 L67.8 288.4 L69.5 281.3 L71.5 274.1 L73.6 266.9 L76.0 259.8 L78.6 252.7 L81.4 245.5 L84.5 238.5 L87.7 231.4 L91.2 224.4 L94.8 217.4 L98.7 210.4 L102.8 203.5 L107.0 196.7 L111.5 189.9 L116.2 183.2 L121.0 176.6 L126.1 170.0 L131.3 163.5 L136.7 157.1 L142.3 150.7 L148.1 144.5 L154.0 138.3 L160.1 132.3 L166.4 126.3 L172.8 120.5 L179.3 114.7 L186.1 109.1 L192.9 103.6 L199.9 98.2 L207.1 93.0 L214.3 87.9 L221.7 82.9 L229.2 78.0 L236.8 73.3 L244.6 68.7 L252.4 64.3 L260.3 60.0 L268.3 55.9 L276.5 51.9 L284.6 48.1 L292.9 44.5 L301.2 41.0 L309.6 37.6 L318.1 34.5 L326.6 31.5 L335.2 28.7 L343.8 26.0 L352.4 23.6 L361.1 21.3 L369.8 19.2 L378.5 17.2 L387.2 15.5 L395.9 13.9 L404.7 12.5 L413.4 11.3 L422.1 10.3 L430.8 9.5 L439.5 8.8 L448.1 8.4 L456.7 8.1 L465.2 8.0 L473.8 8.1 L482.2 8.4 L490.6 8.9 L498.9 9.6 L507.2 10.4 L515.4 11.5 L523.5 12.7 L531.5 14.1 L539.4 15.7 L547.2 17.5 L555.0 19.4 L562.6 21.6 L570.1 23.9 L577.4 26.4 L584.7 29.1 L591.8 31.9 L598.8 34.9 L605.6 38.1 L612.3 41.4 L618.9 45.0 L625.3 48.6 L631.5 52.5 L637.6 56.5 L643.5 60.6 L649.3 64.9 L654.9 69.3 L660.3 73.9 L665.5 78.7 L670.5 83.5 L675.3 88.6 L680.0 93.7 L684.4 99.0 L688.7 104.4 L692.7 109.9 L696.6 115.5 L700.2 121.3 L703.7 127.1 L706.9 133.1 L709.9 139.2 L712.7 145.3 L715.3 151.6 L717.6 157.9 L719.8 164.4 L721.7 170.9 L723.4 177.5 L724.8 184.1 L726.1 190.9 L727.1 197.7 L727.9 204.5 L728.4 211.4 L728.8 218.3 L728.9 225.3 L728.8 232.4 L728.4 239.4 L727.8 246.5 L727.0 253.6 L726.0 260.8 L724.7 267.9 L723.2 275.1 L721.5 282.3 L719.6 289.4 L717.4 296.6 L715.0 303.7 L712.4 310.9 L709.6 318.0 L706.6 325.1 L703.3 332.1 L699.9 339.2 L696.2 346.2 L692.4 353.1 L688.3 360.0 L684.0 366.8 L679.5 373.6 L674.9 380.3 L670.0 387.0 L665.0 393.6 L659.7 400.1 L654.3 406.5 L648.7 412.8 L643.0 419.1 L637.0 425.2 L630.9 431.3 L624.7 437.2 L618.3 443.1 L611.7 448.8 L605.0 454.4 L598.1 459.9 L591.1 465.3 L584.0 470.6 L576.7 475.7 L569.3 480.7 L561.8 485.5 L554.2 490.2 L546.5 494.8 L538.7 499.2 L530.7 503.5 L522.7 507.6 L514.6 511.6 L506.4 515.4 L498.1 519.1 L489.8 522.6 L481.4 525.9 L472.9 529.0 L464.4 532.0 L455.9 534.9 L447.3 537.5 L438.6 540.0 L430.0 542.3 L421.3 544.4 L412.6 546.3 L403.8 548.1 L395.1 549.6 L386.4 551.0 L377.7 552.2 L368.9 553.2 L360.3 554.1 L351.6 554.7 L343.0 555.1 L334.4 555.4 L325.8 555.5 L317.3 555.4 L308.8 555.1 L300.4 554.6 L292.1 553.9 L283.9 553.1 L275.7 552.1 L267.6 550.8 L259.6 549.4 L251.6 547.8 L243.8 546.0 L236.1 544.1 L228.5 541.9 L221.0 539.6 L213.6 537.1 L206.4 534.5 L199.2 531.6 L192.3 528.6 L185.4 525.4 L178.7 522.1 L172.2 518.6 L165.8 514.9 L159.5 511.1 L153.4 507.1 L147.5 502.9 L141.8 498.6 L136.2 494.2 L130.8 489.6 L125.6 484.9 L120.6 480.0 L115.7 475.0 L111.1 469.8 L106.6 464.6 L102.4 459.2 L98.3 453.6 L94.5 448.0 L90.8 442.3 L87.4 436.4 L84.2 430.4 L81.1 424.4 L78.4 418.2Z M129.6 396.2 L127.4 390.9 L125.4 385.6 L123.6 380.2 L122.0 374.7 L120.6 369.2 L119.4 363.6 L118.4 358.0 L117.5 352.3 L116.8 346.6 L116.4 340.8 L116.1 334.9 L116.0 329.1 L116.1 323.2 L116.4 317.3 L116.9 311.3 L117.6 305.3 L118.4 299.4 L119.5 293.4 L120.8 287.4 L122.2 281.3 L123.8 275.3 L125.6 269.3 L127.6 263.3 L129.8 257.4 L132.2 251.4 L134.7 245.4 L137.4 239.5 L140.3 233.6 L143.4 227.8 L146.6 222.0 L150.0 216.2 L153.6 210.4 L157.4 204.8 L161.3 199.1 L165.4 193.5 L169.6 188.0 L174.0 182.6 L178.5 177.2 L183.2 171.9 L188.0 166.6 L193.0 161.5 L198.1 156.4 L203.4 151.4 L208.8 146.5 L214.3 141.7 L219.9 137.0 L225.6 132.4 L231.5 127.9 L237.5 123.5 L243.6 119.2 L249.8 115.0 L256.1 110.9 L262.5 107.0 L268.9 103.1 L275.5 99.4 L282.2 95.8 L288.9 92.4 L295.7 89.0 L302.6 85.8 L309.5 82.8 L316.5 79.9 L323.5 77.1 L330.6 74.4 L337.8 71.9 L344.9 69.6 L352.1 67.3 L359.4 65.3 L366.7 63.4 L373.9 61.6 L381.2 60.0 L388.6 58.5 L395.9 57.2 L403.2 56.0 L410.5 55.0 L417.8 54.2 L425.1 53.5 L432.4 52.9 L439.6 52.5 L446.8 52.3 L454.0 52.2 L461.1 52.3 L468.2 52.6 L475.2 53.0 L482.2 53.5 L489.2 54.3 L496.0 55.1 L502.8 56.2 L509.5 57.3 L516.2 58.7 L522.7 60.2 L529.2 61.8 L535.6 63.6 L541.9 65.6 L548.1 67.6 L554.1 69.9 L560.1 72.3 L566.0 74.8 L571.7 77.5 L577.3 80.3 L582.8 83.2 L588.2 86.3 L593.4 89.5 L598.5 92.8 L603.5 96.3 L608.3 99.9 L613.0 103.7 L617.5 107.5 L621.9 111.5 L626.1 115.6 L630.1 119.8 L634.0 124.1 L637.8 128.5 L641.3 133.0 L644.7 137.6 L648.0 142.4 L651.0 147.2 L653.9 152.1 L656.6 157.1 L659.1 162.2 L661.5 167.4 L663.6 172.6 L665.6 177.9 L667.4 183.3 L669.0 188.8 L670.4 194.3 L671.7 199.9 L672.7 205.5 L673.5 211.2 L674.2 217.0 L674.7 222.8 L675.0 228.6 L675.0 234.5 L674.9 240.3 L674.6 246.3 L674.1 252.2 L673.5 258.2 L672.6 264.2 L671.5 270.2 L670.3 276.2 L668.9 282.2 L667.2 288.2 L665.4 294.2 L663.4 300.2 L661.2 306.2 L658.9 312.1 L656.3 318.1 L653.6 324.0 L650.7 329.9 L647.7 335.8 L644.4 341.6 L641.0 347.4 L637.4 353.1 L633.7 358.8 L629.8 364.4 L625.7 370.0 L621.4 375.5 L617.1 381.0 L612.5 386.3 L607.8 391.7 L603.0 396.9 L598.0 402.0 L592.9 407.1 L587.7 412.1 L582.3 417.0 L576.8 421.8 L571.2 426.5 L565.4 431.1 L559.5 435.7 L553.6 440.1 L547.5 444.4 L541.3 448.5 L535.0 452.6 L528.6 456.6 L522.1 460.4 L515.5 464.1 L508.9 467.7 L502.2 471.2 L495.4 474.5 L488.5 477.7 L481.6 480.7 L474.6 483.7 L467.5 486.5 L460.4 489.1 L453.3 491.6 L446.1 494.0 L438.9 496.2 L431.7 498.3 L424.4 500.2 L417.1 502.0 L409.8 503.6 L402.5 505.0 L395.2 506.4 L387.9 507.5 L380.5 508.5 L373.2 509.4 L366.0 510.1 L358.7 510.6 L351.5 511.0 L344.2 511.2 L337.1 511.3 L329.9 511.2 L322.8 510.9 L315.8 510.5 L308.8 510.0 L301.9 509.3 L295.0 508.4 L288.2 507.4 L281.5 506.2 L274.9 504.8 L268.3 503.4 L261.8 501.7 L255.5 499.9 L249.2 498.0 L243.0 495.9 L236.9 493.7 L230.9 491.3 L225.1 488.7 L219.3 486.1 L213.7 483.3 L208.2 480.3 L202.9 477.2 L197.6 474.0 L192.5 470.7 L187.6 467.2 L182.7 463.6 L178.1 459.9 L173.6 456.0 L169.2 452.1 L165.0 448.0 L160.9 443.8 L157.0 439.5 L153.3 435.0 L149.7 430.5 L146.3 425.9 L143.1 421.2 L140.0 416.3 L137.2 411.4 L134.4 406.4 L131.9 401.3 L129.6 396.2Z M193.4 368.7 L191.8 364.7 L190.3 360.7 L188.9 356.6 L187.7 352.4 L186.6 348.2 L185.7 344.0 L184.9 339.7 L184.2 335.4 L183.7 331.0 L183.4 326.6 L183.2 322.2 L183.1 317.7 L183.2 313.2 L183.4 308.7 L183.8 304.2 L184.3 299.7 L184.9 295.1 L185.7 290.6 L186.7 286.0 L187.8 281.4 L189.0 276.9 L190.4 272.3 L191.9 267.8 L193.6 263.2 L195.4 258.7 L197.3 254.2 L199.4 249.7 L201.6 245.2 L203.9 240.7 L206.4 236.3 L209.0 231.9 L211.7 227.6 L214.5 223.2 L217.5 219.0 L220.6 214.7 L223.8 210.5 L227.1 206.4 L230.6 202.3 L234.2 198.3 L237.8 194.3 L241.6 190.4 L245.5 186.5 L249.5 182.7 L253.6 179.0 L257.8 175.3 L262.0 171.7 L266.4 168.2 L270.9 164.8 L275.4 161.5 L280.0 158.2 L284.8 155.0 L289.5 151.9 L294.4 148.9 L299.3 146.0 L304.3 143.2 L309.4 140.5 L314.5 137.8 L319.6 135.3 L324.9 132.9 L330.1 130.5 L335.4 128.3 L340.8 126.2 L346.2 124.2 L351.6 122.3 L357.1 120.5 L362.6 118.8 L368.1 117.2 L373.6 115.8 L379.1 114.4 L384.7 113.2 L390.2 112.1 L395.8 111.1 L401.4 110.2 L406.9 109.4 L412.5 108.8 L418.0 108.2 L423.5 107.8 L429.0 107.5 L434.5 107.4 L440.0 107.3 L445.4 107.4 L450.8 107.6 L456.1 107.9 L461.4 108.3 L466.7 108.9 L471.9 109.5 L477.1 110.3 L482.2 111.2 L487.2 112.2 L492.2 113.4 L497.1 114.6 L502.0 116.0 L506.8 117.4 L511.4 119.0 L516.1 120.7 L520.6 122.5 L525.1 124.5 L529.4 126.5 L533.7 128.6 L537.9 130.9 L542.0 133.2 L545.9 135.6 L549.8 138.2 L553.6 140.8 L557.2 143.6 L560.8 146.4 L564.2 149.3 L567.5 152.3 L570.8 155.4 L573.8 158.6 L576.8 161.9 L579.6 165.3 L582.3 168.7 L584.9 172.2 L587.4 175.8 L589.7 179.5 L591.9 183.2 L593.9 187.0 L595.9 190.9 L597.6 194.8 L599.3 198.8 L600.8 202.9 L602.2 207.0 L603.4 211.1 L604.5 215.3 L605.4 219.5 L606.2 223.8 L606.8 228.2 L607.3 232.5 L607.7 236.9 L607.9 241.4 L608.0 245.8 L607.9 250.3 L607.7 254.8 L607.3 259.3 L606.8 263.8 L606.1 268.4 L605.3 273.0 L604.4 277.5 L603.3 282.1 L602.0 286.6 L600.7 291.2 L599.1 295.8 L597.5 300.3 L595.7 304.8 L593.8 309.4 L591.7 313.9 L589.5 318.3 L587.2 322.8 L584.7 327.2 L582.1 331.6 L579.4 336.0 L576.5 340.3 L573.5 344.6 L570.4 348.8 L567.2 353.0 L563.9 357.2 L560.5 361.2 L556.9 365.3 L553.2 369.3 L549.4 373.2 L545.6 377.0 L541.6 380.8 L537.5 384.6 L533.3 388.2 L529.0 391.8 L524.6 395.3 L520.2 398.7 L515.6 402.1 L511.0 405.3 L506.3 408.5 L501.5 411.6 L496.7 414.6 L491.7 417.5 L486.7 420.4 L481.7 423.1 L476.6 425.7 L471.4 428.2 L466.2 430.7 L460.9 433.0 L455.6 435.2 L450.2 437.3 L444.9 439.3 L439.4 441.3 L434.0 443.0 L428.5 444.7 L423.0 446.3 L417.5 447.8 L411.9 449.1 L406.4 450.3 L400.8 451.5 L395.3 452.5 L389.7 453.3 L384.1 454.1 L378.6 454.8 L373.1 455.3 L367.5 455.7 L362.0 456.0 L356.5 456.2 L351.1 456.2 L345.7 456.1 L340.3 456.0 L334.9 455.6 L329.6 455.2 L324.4 454.7 L319.1 454.0 L314.0 453.2 L308.9 452.3 L303.8 451.3 L298.8 450.2 L293.9 448.9 L289.1 447.6 L284.3 446.1 L279.6 444.5 L275.0 442.8 L270.4 441.0 L266.0 439.1 L261.6 437.0 L257.4 434.9 L253.2 432.7 L249.1 430.3 L245.1 427.9 L241.2 425.3 L237.5 422.7 L233.8 420.0 L230.3 417.1 L226.8 414.2 L223.5 411.2 L220.3 408.1 L217.2 404.9 L214.3 401.6 L211.4 398.3 L208.7 394.8 L206.1 391.3 L203.7 387.7 L201.3 384.0 L199.2 380.3 L197.1 376.5 L195.2 372.6 L193.4 368.7Z M290.7 326.8 L289.9 324.8 L289.1 322.7 L288.4 320.6 L287.8 318.4 L287.2 316.2 L286.7 314.0 L286.3 311.8 L286.0 309.6 L285.7 307.3 L285.5 305.0 L285.4 302.7 L285.4 300.4 L285.4 298.1 L285.5 295.8 L285.7 293.4 L286.0 291.1 L286.3 288.7 L286.8 286.3 L287.3 284.0 L287.8 281.6 L288.5 279.2 L289.2 276.9 L290.0 274.5 L290.8 272.1 L291.7 269.8 L292.7 267.5 L293.8 265.1 L295.0 262.8 L296.2 260.5 L297.5 258.2 L298.8 255.9 L300.2 253.7 L301.7 251.4 L303.2 249.2 L304.8 247.0 L306.5 244.8 L308.2 242.7 L310.0 240.6 L311.9 238.5 L313.8 236.4 L315.7 234.4 L317.7 232.4 L319.8 230.4 L321.9 228.5 L324.1 226.6 L326.3 224.7 L328.6 222.9 L330.9 221.1 L333.3 219.4 L335.7 217.7 L338.1 216.1 L340.6 214.4 L343.1 212.9 L345.6 211.4 L348.2 209.9 L350.9 208.5 L353.5 207.1 L356.2 205.8 L358.9 204.6 L361.6 203.4 L364.4 202.2 L367.2 201.1 L369.9 200.1 L372.8 199.1 L375.6 198.1 L378.4 197.3 L381.3 196.5 L384.1 195.7 L387.0 195.0 L389.9 194.4 L392.8 193.8 L395.7 193.3 L398.5 192.8 L401.4 192.4 L404.3 192.1 L407.2 191.8 L410.0 191.6 L412.9 191.4 L415.7 191.4 L418.6 191.3 L421.4 191.4 L424.2 191.5 L426.9 191.6 L429.7 191.8 L432.4 192.1 L435.1 192.5 L437.8 192.9 L440.4 193.3 L443.1 193.9 L445.6 194.5 L448.2 195.1 L450.7 195.8 L453.2 196.6 L455.6 197.4 L458.0 198.3 L460.4 199.2 L462.7 200.2 L464.9 201.3 L467.2 202.4 L469.3 203.5 L471.4 204.7 L473.5 206.0 L475.5 207.3 L477.5 208.7 L479.4 210.1 L481.2 211.6 L483.0 213.1 L484.7 214.7 L486.4 216.3 L488.0 217.9 L489.5 219.6 L491.0 221.4 L492.4 223.2 L493.7 225.0 L495.0 226.8 L496.2 228.7 L497.3 230.7 L498.4 232.6 L499.4 234.7 L500.3 236.7 L501.2 238.8 L501.9 240.9 L502.7 243.0 L503.3 245.1 L503.8 247.3 L504.3 249.5 L504.7 251.7 L505.1 254.0 L505.3 256.2 L505.5 258.5 L505.6 260.8 L505.7 263.1 L505.6 265.4 L505.5 267.8 L505.3 270.1 L505.0 272.5 L504.7 274.8 L504.3 277.2 L503.8 279.6 L503.2 281.9 L502.6 284.3 L501.9 286.7 L501.1 289.0 L500.2 291.4 L499.3 293.7 L498.3 296.1 L497.2 298.4 L496.1 300.7 L494.9 303.0 L493.6 305.3 L492.3 307.6 L490.8 309.9 L489.4 312.1 L487.8 314.3 L486.2 316.5 L484.5 318.7 L482.8 320.8 L481.0 323.0 L479.2 325.1 L477.3 327.1 L475.3 329.2 L473.3 331.2 L471.2 333.1 L469.1 335.1 L466.9 337.0 L464.7 338.8 L462.5 340.6 L460.1 342.4 L457.8 344.1 L455.4 345.8 L453.0 347.5 L450.5 349.1 L448.0 350.6 L445.4 352.2 L442.8 353.6 L440.2 355.0 L437.5 356.4 L434.9 357.7 L432.2 359.0 L429.4 360.2 L426.7 361.3 L423.9 362.4 L421.1 363.5 L418.3 364.5 L415.5 365.4 L412.6 366.3 L409.8 367.1 L406.9 367.8 L404.0 368.5 L401.1 369.2 L398.3 369.7 L395.4 370.3 L392.5 370.7 L389.6 371.1 L386.7 371.5 L383.9 371.7 L381.0 371.9 L378.2 372.1 L375.3 372.2 L372.5 372.2 L369.7 372.2 L366.9 372.1 L364.1 371.9 L361.4 371.7 L358.6 371.4 L355.9 371.1 L353.2 370.7 L350.6 370.2 L348.0 369.7 L345.4 369.1 L342.8 368.4 L340.3 367.7 L337.9 367.0 L335.4 366.1 L333.0 365.3 L330.7 364.3 L328.4 363.3 L326.1 362.3 L323.9 361.2 L321.7 360.0 L319.6 358.8 L317.5 357.5 L315.5 356.2 L313.6 354.8 L311.7 353.4 L309.8 351.9 L308.1 350.4 L306.3 348.9 L304.7 347.3 L303.1 345.6 L301.5 343.9 L300.1 342.2 L298.7 340.4 L297.3 338.6 L296.1 336.7 L294.8 334.8 L293.7 332.9 L292.6 330.9 L291.7 328.9 L290.7 326.8Z" fill="none" stroke="#000" stroke-opacity="0.66" stroke-width="0.85"/></g><path d="M402.6 14.1 H679.1" stroke="#000" stroke-opacity="0.5" stroke-width="1.1" fill="none"/><path d="M678.6 14.1 V288.9" stroke="#444" stroke-opacity="0.8" stroke-width="1" fill="none"/><path d="M409.6 14.1 V282.4" stroke="#555" stroke-opacity="0.45" stroke-width="1" fill="none"/><path d="M402.6 282.4 H679.1" stroke="#333" stroke-width="1" fill="none"/><path d="M409.6 282.9 V289.6 M476.9 282.9 V289.6 M544.1 282.9 V289.6 M611.4 282.9 V289.6" stroke="#000" stroke-opacity="0.36" stroke-width="0.9" fill="none"/><path d="M402.6 228.7 H409.6 M402.6 175.1 H409.6 M402.6 121.4 H409.6 M402.6 67.8 H409.6" stroke="#000" stroke-opacity="0.5" stroke-width="0.9" fill="none"/><text transform="translate(400.60 280.00) scale(0.920 1)" text-anchor="end" class="t">0</text><text transform="translate(400.60 226.34) scale(0.920 1)" text-anchor="end" class="t">20</text><text transform="translate(400.60 172.68) scale(0.920 1)" text-anchor="end" class="t">40</text><text transform="translate(400.60 119.02) scale(0.920 1)" text-anchor="end" class="t">60</text><text transform="translate(400.60 65.36) scale(0.920 1)" text-anchor="end" class="t">80</text><text transform="translate(400.60 11.70) scale(0.920 1)" text-anchor="end" class="t">100</text><text transform="translate(409.60 305.10) scale(0.920 1)" text-anchor="middle" class="t">0</text><text transform="translate(476.85 305.10) scale(0.920 1)" text-anchor="middle" class="t">5</text><text transform="translate(544.10 305.10) scale(0.920 1)" text-anchor="middle" class="t">10</text><text transform="translate(611.35 305.10) scale(0.920 1)" text-anchor="middle" class="t">15</text><text transform="translate(678.60 305.10) scale(0.920 1)" text-anchor="middle" class="t">20</text><text transform="translate(543.60 323.30) scale(0.910 1)" text-anchor="middle" class="a">A: LCB (% bwoc)</text><text transform="translate(373.4 148.1) rotate(-90) scale(0.91 1)" text-anchor="middle" class="a">B: RCA (% by vol)</text><g clip-path="url(#cb)"><rect x="606.9" y="27.9" width="15.0" height="14.7" fill="#fff" stroke="#555" stroke-width="0.9"/></g><text transform="translate(614.40 39.40) scale(0.940 1)" text-anchor="middle" class="b" font-size="11.3">14</text><g clip-path="url(#cb)"><rect x="599.9" y="84.9" width="15.0" height="14.7" fill="#fff" stroke="#555" stroke-width="0.9"/></g><text transform="translate(607.40 96.30) scale(0.940 1)" text-anchor="middle" class="b" font-size="11.3">15</text><g clip-path="url(#cb)"><rect x="551.2" y="130.2" width="15.0" height="14.7" fill="#fff" stroke="#555" stroke-width="0.9"/></g><text transform="translate(558.70 141.70) scale(0.940 1)" text-anchor="middle" class="b" font-size="11.3">16</text><g clip-path="url(#cb)"><rect x="472.5" y="196.2" width="15.0" height="14.7" fill="#fff" stroke="#555" stroke-width="0.9"/></g><text transform="translate(480.00 207.70) scale(0.940 1)" text-anchor="middle" class="b" font-size="11.3">17</text><rect x="414.2" y="14.0" width="88" height="25.7" fill="#fff" stroke="#555" stroke-width="1"/><rect x="433.7" y="17.1" width="47.5" height="18.3" fill="url(#lg)"/><text transform="translate(415.10 31.20) scale(0.930 1)" text-anchor="start" class="l">10</text><text transform="translate(486.40 31.20) scale(0.930 1)" text-anchor="start" class="l">34</text><text transform="translate(414.90 52.70) scale(0.950 1)" text-anchor="start" class="d" font-size="12.7">7 days</text><text x="526.2" y="366.0" text-anchor="middle" class="c">(b) 7 days (interpolated)</text></g>
<g><rect x="46.2" y="399.6" width="268.5" height="267.7" fill="url(#gc)"/><g clip-path="url(#cc)"><path d="M-287.8 814.0 L-290.5 807.4 L-293.1 800.6 L-295.3 793.8 L-297.4 786.8 L-299.2 779.8 L-300.8 772.8 L-302.1 765.6 L-303.2 758.4 L-304.1 751.1 L-304.7 743.8 L-305.0 736.4 L-305.2 728.9 L-305.1 721.5 L-304.7 714.0 L-304.1 706.4 L-303.3 698.8 L-302.2 691.3 L-300.8 683.6 L-299.3 676.0 L-297.5 668.4 L-295.4 660.8 L-293.2 653.2 L-290.7 645.6 L-287.9 638.0 L-285.0 630.4 L-281.8 622.9 L-278.3 615.4 L-274.7 607.9 L-270.8 600.5 L-266.7 593.1 L-262.4 585.8 L-257.9 578.5 L-253.2 571.3 L-248.2 564.1 L-243.1 557.1 L-237.8 550.1 L-232.2 543.2 L-226.5 536.3 L-220.6 529.6 L-214.5 523.0 L-208.2 516.4 L-201.7 510.0 L-195.1 503.7 L-188.3 497.4 L-181.4 491.4 L-174.2 485.4 L-167.0 479.5 L-159.6 473.8 L-152.0 468.2 L-144.3 462.8 L-136.5 457.5 L-128.5 452.3 L-120.5 447.3 L-112.3 442.4 L-104.0 437.7 L-95.6 433.2 L-87.1 428.8 L-78.5 424.6 L-69.8 420.5 L-61.0 416.6 L-52.2 412.9 L-43.3 409.4 L-34.3 406.0 L-25.3 402.9 L-16.2 399.9 L-7.1 397.1 L2.1 394.4 L11.3 392.0 L20.5 389.8 L29.8 387.7 L39.0 385.9 L48.3 384.2 L57.5 382.7 L66.8 381.4 L76.0 380.4 L85.2 379.5 L94.4 378.8 L103.6 378.3 L112.7 378.0 L121.8 377.9 L130.8 378.1 L139.8 378.4 L148.7 378.9 L157.6 379.6 L166.3 380.5 L175.0 381.6 L183.6 382.9 L192.1 384.4 L200.5 386.1 L208.8 388.0 L217.0 390.1 L225.1 392.4 L233.1 394.8 L240.9 397.5 L248.6 400.3 L256.2 403.3 L263.6 406.6 L270.9 409.9 L278.0 413.5 L285.0 417.2 L291.8 421.1 L298.4 425.2 L304.9 429.5 L311.1 433.9 L317.3 438.4 L323.2 443.2 L328.9 448.1 L334.5 453.1 L339.8 458.3 L345.0 463.6 L349.9 469.1 L354.6 474.7 L359.2 480.4 L363.5 486.3 L367.6 492.3 L371.5 498.4 L375.1 504.6 L378.6 511.0 L381.8 517.4 L384.7 524.0 L387.5 530.6 L390.0 537.4 L392.3 544.2 L394.3 551.2 L396.2 558.2 L397.7 565.2 L399.1 572.4 L400.2 579.6 L401.0 586.9 L401.6 594.2 L402.0 601.6 L402.1 609.1 L402.0 616.5 L401.6 624.0 L401.0 631.6 L400.2 639.2 L399.1 646.7 L397.8 654.4 L396.2 662.0 L394.4 669.6 L392.4 677.2 L390.1 684.8 L387.6 692.4 L384.9 700.0 L381.9 707.6 L378.7 715.1 L375.3 722.6 L371.6 730.1 L367.8 737.5 L363.7 744.9 L359.4 752.2 L354.8 759.5 L350.1 766.7 L345.2 773.9 L340.0 780.9 L334.7 787.9 L329.2 794.8 L323.4 801.7 L317.5 808.4 L311.4 815.0 L305.1 821.6 L298.7 828.0 L292.1 834.3 L285.3 840.6 L278.3 846.6 L271.2 852.6 L263.9 858.5 L256.5 864.2 L249.0 869.8 L241.3 875.2 L233.4 880.5 L225.5 885.7 L217.4 890.7 L209.2 895.6 L200.9 900.3 L192.5 904.8 L184.0 909.2 L175.4 913.4 L166.7 917.5 L158.0 921.4 L149.1 925.1 L140.2 928.6 L131.2 932.0 L122.2 935.1 L113.1 938.1 L104.0 940.9 L94.8 943.6 L85.6 946.0 L76.4 948.2 L67.2 950.3 L57.9 952.2 L48.7 953.8 L39.4 955.3 L30.2 956.6 L20.9 957.6 L11.7 958.5 L2.5 959.2 L-6.6 959.7 L-15.8 960.0 L-24.8 960.1 L-33.9 959.9 L-42.9 959.6 L-51.8 959.1 L-60.6 958.4 L-69.4 957.5 L-78.1 956.4 L-86.7 955.1 L-95.2 953.6 L-103.6 951.9 L-111.9 950.0 L-120.1 947.9 L-128.2 945.6 L-136.1 943.2 L-144.0 940.5 L-151.7 937.7 L-159.2 934.7 L-166.6 931.5 L-173.9 928.1 L-181.0 924.5 L-188.0 920.8 L-194.8 916.9 L-201.4 912.8 L-207.9 908.5 L-214.2 904.1 L-220.3 899.6 L-226.2 894.8 L-232.0 889.9 L-237.5 884.9 L-242.9 879.7 L-248.0 874.4 L-252.9 868.9 L-257.7 863.3 L-262.2 857.6 L-266.5 851.7 L-270.6 845.7 L-274.5 839.6 L-278.2 833.4 L-281.6 827.0 L-284.8 820.6 L-287.8 814.0Z M-240.6 793.7 L-243.0 788.0 L-245.2 782.2 L-247.1 776.3 L-248.9 770.3 L-250.4 764.3 L-251.8 758.2 L-252.9 752.1 L-253.9 745.8 L-254.6 739.6 L-255.1 733.3 L-255.5 726.9 L-255.6 720.5 L-255.5 714.1 L-255.2 707.6 L-254.6 701.2 L-253.9 694.7 L-253.0 688.1 L-251.9 681.6 L-250.5 675.0 L-249.0 668.5 L-247.2 661.9 L-245.3 655.4 L-243.1 648.9 L-240.7 642.3 L-238.2 635.8 L-235.4 629.4 L-232.5 622.9 L-229.4 616.5 L-226.0 610.1 L-222.5 603.7 L-218.8 597.4 L-214.9 591.2 L-210.9 585.0 L-206.6 578.9 L-202.2 572.8 L-197.6 566.8 L-192.8 560.8 L-187.9 554.9 L-182.8 549.2 L-177.6 543.4 L-172.2 537.8 L-166.6 532.3 L-160.9 526.9 L-155.1 521.5 L-149.1 516.3 L-143.0 511.1 L-136.8 506.1 L-130.4 501.2 L-123.9 496.4 L-117.3 491.7 L-110.5 487.1 L-103.7 482.7 L-96.8 478.4 L-89.7 474.2 L-82.6 470.2 L-75.4 466.3 L-68.0 462.5 L-60.7 458.9 L-53.2 455.4 L-45.7 452.0 L-38.1 448.9 L-30.4 445.8 L-22.7 442.9 L-14.9 440.2 L-7.1 437.6 L0.7 435.2 L8.6 433.0 L16.5 430.9 L24.4 428.9 L32.4 427.2 L40.3 425.6 L48.3 424.1 L56.3 422.9 L64.2 421.8 L72.1 420.8 L80.1 420.1 L88.0 419.5 L95.9 419.1 L103.7 418.8 L111.5 418.8 L119.3 418.9 L127.0 419.1 L134.7 419.6 L142.3 420.2 L149.8 421.0 L157.3 421.9 L164.7 423.0 L172.0 424.3 L179.2 425.8 L186.3 427.4 L193.4 429.2 L200.3 431.2 L207.2 433.3 L213.9 435.6 L220.5 438.0 L227.0 440.6 L233.4 443.4 L239.7 446.3 L245.8 449.3 L251.8 452.5 L257.6 455.9 L263.3 459.4 L268.9 463.1 L274.3 466.9 L279.6 470.8 L284.6 474.8 L289.6 479.0 L294.3 483.4 L298.9 487.8 L303.4 492.4 L307.6 497.1 L311.7 501.9 L315.6 506.9 L319.3 511.9 L322.8 517.1 L326.2 522.3 L329.3 527.7 L332.3 533.1 L335.0 538.7 L337.6 544.3 L339.9 550.0 L342.1 555.8 L344.1 561.7 L345.8 567.7 L347.4 573.7 L348.7 579.8 L349.9 585.9 L350.8 592.2 L351.6 598.4 L352.1 604.7 L352.4 611.1 L352.5 617.5 L352.4 623.9 L352.1 630.4 L351.6 636.8 L350.9 643.3 L349.9 649.9 L348.8 656.4 L347.5 663.0 L345.9 669.5 L344.2 676.1 L342.2 682.6 L340.0 689.1 L337.7 695.7 L335.1 702.2 L332.4 708.6 L329.4 715.1 L326.3 721.5 L323.0 727.9 L319.5 734.3 L315.8 740.6 L311.9 746.8 L307.8 753.0 L303.6 759.1 L299.1 765.2 L294.6 771.2 L289.8 777.2 L284.9 783.1 L279.8 788.8 L274.5 794.6 L269.1 800.2 L263.6 805.7 L257.9 811.1 L252.1 816.5 L246.1 821.7 L240.0 826.9 L233.7 831.9 L227.3 836.8 L220.8 841.6 L214.2 846.3 L207.5 850.9 L200.7 855.3 L193.7 859.6 L186.7 863.8 L179.5 867.8 L172.3 871.7 L165.0 875.5 L157.6 879.1 L150.1 882.6 L142.6 886.0 L135.0 889.2 L127.3 892.2 L119.6 895.1 L111.9 897.8 L104.1 900.4 L96.2 902.8 L88.3 905.0 L80.4 907.1 L72.5 909.1 L64.6 910.8 L56.6 912.4 L48.7 913.9 L40.7 915.1 L32.7 916.2 L24.8 917.2 L16.9 917.9 L9.0 918.5 L1.1 918.9 L-6.8 919.2 L-14.6 919.2 L-22.3 919.1 L-30.0 918.9 L-37.7 918.4 L-45.3 917.8 L-52.8 917.0 L-60.3 916.1 L-67.7 915.0 L-75.0 913.7 L-82.3 912.2 L-89.4 910.6 L-96.4 908.8 L-103.4 906.8 L-110.2 904.7 L-117.0 902.4 L-123.6 900.0 L-130.1 897.4 L-136.5 894.6 L-142.7 891.7 L-148.8 888.7 L-154.8 885.5 L-160.7 882.1 L-166.4 878.6 L-171.9 874.9 L-177.4 871.1 L-182.6 867.2 L-187.7 863.2 L-192.6 859.0 L-197.4 854.6 L-202.0 850.2 L-206.4 845.6 L-210.7 840.9 L-214.7 836.1 L-218.6 831.1 L-222.3 826.1 L-225.9 820.9 L-229.2 815.7 L-232.4 810.3 L-235.3 804.9 L-238.1 799.3 L-240.6 793.7Z M-184.1 769.3 L-186.0 764.7 L-187.7 760.0 L-189.3 755.3 L-190.7 750.5 L-192.0 745.7 L-193.1 740.8 L-194.0 735.8 L-194.8 730.8 L-195.3 725.8 L-195.8 720.7 L-196.0 715.6 L-196.1 710.5 L-196.0 705.3 L-195.8 700.1 L-195.4 694.9 L-194.8 689.6 L-194.0 684.4 L-193.1 679.1 L-192.0 673.9 L-190.8 668.6 L-189.4 663.3 L-187.8 658.1 L-186.1 652.8 L-184.2 647.6 L-182.1 642.3 L-179.9 637.1 L-177.5 631.9 L-175.0 626.8 L-172.3 621.6 L-169.5 616.5 L-166.5 611.4 L-163.4 606.4 L-160.1 601.4 L-156.7 596.5 L-153.2 591.6 L-149.5 586.8 L-145.7 582.0 L-141.7 577.3 L-137.6 572.6 L-133.4 568.0 L-129.0 563.5 L-124.6 559.0 L-120.0 554.7 L-115.3 550.4 L-110.5 546.1 L-105.6 542.0 L-100.5 538.0 L-95.4 534.0 L-90.2 530.1 L-84.9 526.4 L-79.4 522.7 L-73.9 519.1 L-68.4 515.7 L-62.7 512.3 L-57.0 509.1 L-51.1 505.9 L-45.3 502.9 L-39.3 500.0 L-33.3 497.2 L-27.2 494.5 L-21.1 491.9 L-15.0 489.5 L-8.8 487.1 L-2.5 484.9 L3.8 482.9 L10.1 480.9 L16.4 479.1 L22.8 477.4 L29.1 475.9 L35.5 474.5 L41.9 473.2 L48.3 472.0 L54.7 471.0 L61.1 470.1 L67.5 469.4 L73.9 468.8 L80.3 468.3 L86.6 468.0 L92.9 467.8 L99.2 467.7 L105.4 467.8 L111.6 468.0 L117.8 468.4 L123.9 468.8 L130.0 469.5 L136.0 470.2 L141.9 471.1 L147.8 472.2 L153.6 473.4 L159.4 474.7 L165.1 476.1 L170.6 477.7 L176.1 479.4 L181.6 481.2 L186.9 483.2 L192.1 485.3 L197.3 487.5 L202.3 489.8 L207.2 492.3 L212.0 494.9 L216.7 497.6 L221.3 500.4 L225.8 503.3 L230.1 506.4 L234.4 509.5 L238.5 512.8 L242.4 516.2 L246.3 519.7 L250.0 523.3 L253.5 526.9 L256.9 530.7 L260.2 534.6 L263.4 538.6 L266.3 542.6 L269.2 546.8 L271.9 551.0 L274.4 555.3 L276.8 559.7 L279.0 564.2 L281.0 568.7 L282.9 573.3 L284.7 578.0 L286.3 582.7 L287.7 587.5 L288.9 592.3 L290.0 597.2 L290.9 602.2 L291.7 607.2 L292.3 612.2 L292.7 617.3 L293.0 622.4 L293.1 627.5 L293.0 632.7 L292.7 637.9 L292.3 643.1 L291.7 648.4 L291.0 653.6 L290.1 658.9 L289.0 664.1 L287.7 669.4 L286.3 674.7 L284.8 679.9 L283.0 685.2 L281.1 690.4 L279.1 695.7 L276.9 700.9 L274.5 706.1 L272.0 711.2 L269.3 716.4 L266.5 721.5 L263.5 726.6 L260.4 731.6 L257.1 736.6 L253.7 741.5 L250.1 746.4 L246.4 751.2 L242.6 756.0 L238.6 760.7 L234.6 765.4 L230.3 770.0 L226.0 774.5 L221.5 779.0 L216.9 783.4 L212.2 787.6 L207.4 791.9 L202.5 796.0 L197.5 800.0 L192.4 804.0 L187.1 807.9 L181.8 811.6 L176.4 815.3 L170.9 818.9 L165.3 822.3 L159.6 825.7 L153.9 828.9 L148.1 832.1 L142.2 835.1 L136.3 838.0 L130.3 840.8 L124.2 843.5 L118.1 846.1 L111.9 848.5 L105.7 850.9 L99.5 853.1 L93.2 855.1 L86.9 857.1 L80.5 858.9 L74.2 860.6 L67.8 862.1 L61.4 863.5 L55.0 864.8 L48.6 866.0 L42.2 867.0 L35.8 867.9 L29.4 868.6 L23.1 869.2 L16.7 869.7 L10.4 870.0 L4.0 870.2 L-2.2 870.3 L-8.5 870.2 L-14.7 870.0 L-20.9 869.6 L-27.0 869.2 L-33.0 868.5 L-39.0 867.8 L-45.0 866.9 L-50.9 865.8 L-56.7 864.6 L-62.4 863.3 L-68.1 861.9 L-73.7 860.3 L-79.2 858.6 L-84.6 856.8 L-89.9 854.8 L-95.2 852.7 L-100.3 850.5 L-105.3 848.2 L-110.3 845.7 L-115.1 843.1 L-119.8 840.4 L-124.4 837.6 L-128.8 834.7 L-133.2 831.6 L-137.4 828.5 L-141.5 825.2 L-145.5 821.8 L-149.3 818.3 L-153.0 814.7 L-156.6 811.1 L-160.0 807.3 L-163.3 803.4 L-166.4 799.4 L-169.4 795.4 L-172.2 791.2 L-174.9 787.0 L-177.4 782.7 L-179.8 778.3 L-182.0 773.8 L-184.1 769.3Z M-108.4 736.6 L-109.6 733.5 L-110.8 730.4 L-111.9 727.2 L-112.8 724.0 L-113.7 720.7 L-114.4 717.4 L-115.0 714.1 L-115.5 710.7 L-115.9 707.3 L-116.2 703.9 L-116.4 700.4 L-116.5 697.0 L-116.4 693.5 L-116.2 690.0 L-116.0 686.4 L-115.6 682.9 L-115.1 679.4 L-114.4 675.8 L-113.7 672.3 L-112.9 668.7 L-111.9 665.2 L-110.9 661.6 L-109.7 658.1 L-108.4 654.5 L-107.0 651.0 L-105.5 647.5 L-103.9 644.0 L-102.2 640.5 L-100.4 637.0 L-98.5 633.6 L-96.5 630.2 L-94.4 626.8 L-92.2 623.4 L-89.9 620.1 L-87.5 616.8 L-85.0 613.5 L-82.4 610.3 L-79.8 607.1 L-77.0 604.0 L-74.2 600.9 L-71.2 597.8 L-68.2 594.8 L-65.1 591.9 L-62.0 589.0 L-58.7 586.2 L-55.4 583.4 L-52.0 580.6 L-48.5 578.0 L-45.0 575.4 L-41.4 572.8 L-37.8 570.4 L-34.1 567.9 L-30.3 565.6 L-26.5 563.3 L-22.6 561.1 L-18.7 559.0 L-14.7 557.0 L-10.7 555.0 L-6.7 553.1 L-2.6 551.3 L1.5 549.6 L5.7 547.9 L9.9 546.4 L14.1 544.9 L18.3 543.5 L22.6 542.2 L26.8 541.0 L31.1 539.8 L35.4 538.8 L39.7 537.8 L44.1 536.9 L48.4 536.2 L52.7 535.5 L57.0 534.9 L61.3 534.4 L65.6 534.0 L69.9 533.7 L74.2 533.4 L78.4 533.3 L82.7 533.3 L86.9 533.3 L91.1 533.5 L95.2 533.7 L99.3 534.0 L103.4 534.5 L107.5 535.0 L111.5 535.6 L115.5 536.3 L119.4 537.1 L123.3 538.0 L127.1 538.9 L130.9 540.0 L134.6 541.1 L138.2 542.4 L141.8 543.7 L145.3 545.1 L148.8 546.6 L152.2 548.2 L155.5 549.8 L158.8 551.6 L161.9 553.4 L165.0 555.3 L168.0 557.3 L171.0 559.3 L173.8 561.5 L176.6 563.7 L179.3 566.0 L181.8 568.3 L184.3 570.7 L186.7 573.2 L189.0 575.8 L191.3 578.4 L193.4 581.1 L195.4 583.8 L197.3 586.6 L199.1 589.4 L200.8 592.3 L202.4 595.3 L203.9 598.3 L205.3 601.4 L206.6 604.5 L207.8 607.6 L208.8 610.8 L209.8 614.0 L210.6 617.3 L211.4 620.6 L212.0 623.9 L212.5 627.3 L212.9 630.7 L213.2 634.1 L213.3 637.6 L213.4 641.0 L213.3 644.5 L213.2 648.0 L212.9 651.6 L212.5 655.1 L212.0 658.6 L211.4 662.2 L210.7 665.7 L209.8 669.3 L208.9 672.8 L207.8 676.4 L206.6 679.9 L205.4 683.5 L204.0 687.0 L202.5 690.5 L200.9 694.0 L199.2 697.5 L197.4 701.0 L195.5 704.4 L193.5 707.8 L191.4 711.2 L189.2 714.6 L186.8 717.9 L184.5 721.2 L182.0 724.5 L179.4 727.7 L176.7 730.9 L174.0 734.0 L171.1 737.1 L168.2 740.2 L165.2 743.2 L162.1 746.1 L158.9 749.0 L155.7 751.9 L152.3 754.6 L149.0 757.4 L145.5 760.0 L142.0 762.6 L138.4 765.2 L134.7 767.7 L131.0 770.1 L127.3 772.4 L123.4 774.7 L119.6 776.9 L115.6 779.0 L111.7 781.0 L107.7 783.0 L103.6 784.9 L99.5 786.7 L95.4 788.4 L91.3 790.1 L87.1 791.6 L82.9 793.1 L78.6 794.5 L74.4 795.8 L70.1 797.0 L65.8 798.2 L61.5 799.2 L57.2 800.2 L52.9 801.1 L48.6 801.8 L44.3 802.5 L39.9 803.1 L35.6 803.6 L31.3 804.0 L27.0 804.3 L22.8 804.6 L18.5 804.7 L14.3 804.7 L10.1 804.7 L5.9 804.5 L1.7 804.3 L-2.4 804.0 L-6.5 803.5 L-10.5 803.0 L-14.6 802.4 L-18.5 801.7 L-22.4 800.9 L-26.3 800.0 L-30.1 799.1 L-33.9 798.0 L-37.6 796.9 L-41.3 795.6 L-44.9 794.3 L-48.4 792.9 L-51.9 791.4 L-55.2 789.8 L-58.6 788.2 L-61.8 786.4 L-65.0 784.6 L-68.1 782.7 L-71.1 780.7 L-74.0 778.7 L-76.9 776.5 L-79.6 774.3 L-82.3 772.0 L-84.9 769.7 L-87.4 767.3 L-89.8 764.8 L-92.1 762.2 L-94.3 759.6 L-96.4 756.9 L-98.4 754.2 L-100.3 751.4 L-102.2 748.6 L-103.9 745.7 L-105.5 742.7 L-107.0 739.7 L-108.4 736.6Z" fill="none" stroke="#000" stroke-opacity="0.66" stroke-width="0.85"/></g><path d="M39.2 399.6 H315.2" stroke="#000" stroke-opacity="0.5" stroke-width="1.1" fill="none"/><path d="M314.7 399.6 V673.8" stroke="#444" stroke-opacity="0.8" stroke-width="1" fill="none"/><path d="M46.2 399.6 V667.3" stroke="#555" stroke-opacity="0.45" stroke-width="1" fill="none"/><path d="M39.2 667.3 H315.2" stroke="#333" stroke-width="1" fill="none"/><path d="M46.2 667.8 V674.5 M113.3 667.8 V674.5 M180.4 667.8 V674.5 M247.6 667.8 V674.5" stroke="#000" stroke-opacity="0.36" stroke-width="0.9" fill="none"/><path d="M39.2 613.8 H46.2 M39.2 560.2 H46.2 M39.2 506.7 H46.2 M39.2 453.1 H46.2" stroke="#000" stroke-opacity="0.5" stroke-width="0.9" fill="none"/><text transform="translate(37.20 664.90) scale(0.920 1)" text-anchor="end" class="t">0</text><text transform="translate(37.20 611.36) scale(0.920 1)" text-anchor="end" class="t">20</text><text transform="translate(37.20 557.82) scale(0.920 1)" text-anchor="end" class="t">40</text><text transform="translate(37.20 504.28) scale(0.920 1)" text-anchor="end" class="t">60</text><text transform="translate(37.20 450.74) scale(0.920 1)" text-anchor="end" class="t">80</text><text transform="translate(37.20 397.20) scale(0.920 1)" text-anchor="end" class="t">100</text><text transform="translate(46.20 690.00) scale(0.920 1)" text-anchor="middle" class="t">0</text><text transform="translate(113.33 690.00) scale(0.920 1)" text-anchor="middle" class="t">5</text><text transform="translate(180.45 690.00) scale(0.920 1)" text-anchor="middle" class="t">10</text><text transform="translate(247.57 690.00) scale(0.920 1)" text-anchor="middle" class="t">15</text><text transform="translate(314.70 690.00) scale(0.920 1)" text-anchor="middle" class="t">20</text><text transform="translate(179.95 708.20) scale(0.910 1)" text-anchor="middle" class="a">A: LCB (% bwoc)</text><text transform="translate(10.0 533.2) rotate(-90) scale(0.91 1)" text-anchor="middle" class="a">B: RCA (% by vol)</text><g clip-path="url(#cc)"><rect x="275.3" y="401.9" width="15.0" height="14.7" fill="#fff" stroke="#555" stroke-width="0.9"/></g><text transform="translate(282.80 413.90) scale(0.880 1)" text-anchor="middle" class="b" font-size="12.9">18</text><g clip-path="url(#cc)"><rect x="196.6" y="418.1" width="15.0" height="14.7" fill="#fff" stroke="#555" stroke-width="0.9"/></g><text transform="translate(204.10 430.10) scale(0.880 1)" text-anchor="middle" class="b" font-size="12.9">19</text><g clip-path="url(#cc)"><rect x="222.6" y="492.3" width="15.0" height="14.7" fill="#fff" stroke="#555" stroke-width="0.9"/></g><text transform="translate(230.10 504.30) scale(0.880 1)" text-anchor="middle" class="b" font-size="12.9">20</text><g clip-path="url(#cc)"><rect x="159.6" y="542.3" width="15.0" height="14.7" fill="#fff" stroke="#555" stroke-width="0.9"/></g><text transform="translate(167.10 554.30) scale(0.880 1)" text-anchor="middle" class="b" font-size="12.9">21</text><rect x="51.2" y="402.5" width="88" height="25.7" fill="#fff" stroke="#555" stroke-width="1"/><rect x="70.7" y="405.6" width="47.5" height="18.3" fill="url(#lg)"/><text transform="translate(52.10 419.70) scale(0.930 1)" text-anchor="start" class="l">10</text><text transform="translate(123.40 419.70) scale(0.930 1)" text-anchor="start" class="l">34</text><text transform="translate(51.60 442.50) scale(1.000 1)" text-anchor="start" class="d" font-size="13.5">14 days</text><text x="162.4" y="752.8" text-anchor="middle" class="c">(c) 14 days (interpolated)</text></g>
<g><rect x="415.3" y="399.6" width="263.3" height="266.3" fill="url(#gd)"/><g clip-path="url(#cd)"><path d="M105.4 821.3 L102.7 814.5 L100.2 807.6 L97.9 800.6 L95.8 793.5 L94.0 786.4 L92.4 779.1 L91.1 771.8 L90.0 764.5 L89.2 757.0 L88.6 749.6 L88.2 742.0 L88.1 734.4 L88.2 726.8 L88.6 719.1 L89.2 711.4 L90.1 703.7 L91.2 696.0 L92.6 688.2 L94.2 680.4 L96.0 672.7 L98.1 664.9 L100.4 657.1 L102.9 649.4 L105.7 641.6 L108.7 633.9 L111.9 626.2 L115.4 618.6 L119.1 610.9 L123.0 603.4 L127.2 595.8 L131.5 588.3 L136.1 580.9 L140.9 573.6 L145.8 566.3 L151.0 559.1 L156.4 551.9 L162.0 544.9 L167.8 537.9 L173.8 531.0 L179.9 524.3 L186.3 517.6 L192.8 511.0 L199.5 504.6 L206.4 498.2 L213.4 492.0 L220.6 485.9 L227.9 480.0 L235.4 474.1 L243.0 468.4 L250.8 462.9 L258.7 457.5 L266.7 452.2 L274.8 447.1 L283.1 442.1 L291.5 437.3 L300.0 432.7 L308.5 428.2 L317.2 423.9 L326.0 419.8 L334.8 415.8 L343.7 412.1 L352.7 408.5 L361.8 405.0 L370.9 401.8 L380.0 398.8 L389.2 395.9 L398.5 393.2 L407.7 390.7 L417.0 388.5 L426.3 386.4 L435.7 384.5 L445.0 382.8 L454.3 381.3 L463.6 380.0 L473.0 378.9 L482.2 378.0 L491.5 377.3 L500.7 376.8 L509.9 376.5 L519.1 376.4 L528.2 376.6 L537.2 376.9 L546.2 377.4 L555.1 378.1 L564.0 379.1 L572.7 380.2 L581.4 381.6 L589.9 383.1 L598.4 384.8 L606.8 386.8 L615.0 388.9 L623.2 391.2 L631.2 393.7 L639.1 396.4 L646.8 399.3 L654.4 402.4 L661.9 405.7 L669.2 409.2 L676.4 412.8 L683.4 416.6 L690.3 420.6 L696.9 424.8 L703.4 429.1 L709.8 433.6 L715.9 438.3 L721.9 443.1 L727.6 448.1 L733.2 453.2 L738.6 458.5 L743.8 464.0 L748.7 469.5 L753.5 475.3 L758.0 481.1 L762.4 487.1 L766.5 493.2 L770.4 499.5 L774.1 505.8 L777.5 512.3 L780.7 518.9 L783.7 525.6 L786.5 532.4 L789.0 539.3 L791.3 546.3 L793.3 553.3 L795.2 560.5 L796.7 567.7 L798.0 575.0 L799.1 582.4 L800.0 589.8 L800.6 597.3 L800.9 604.8 L801.0 612.4 L800.9 620.1 L800.5 627.7 L799.9 635.4 L799.0 643.1 L797.9 650.9 L796.6 658.6 L795.0 666.4 L793.2 674.2 L791.1 682.0 L788.8 689.7 L786.3 697.5 L783.5 705.2 L780.5 712.9 L777.2 720.6 L773.8 728.3 L770.1 735.9 L766.1 743.5 L762.0 751.0 L757.7 758.5 L753.1 765.9 L748.3 773.3 L743.3 780.6 L738.1 787.8 L732.7 794.9 L727.1 802.0 L721.3 808.9 L715.4 815.8 L709.2 822.6 L702.9 829.3 L696.4 835.8 L689.7 842.3 L682.8 848.6 L675.8 854.8 L668.6 860.9 L661.3 866.9 L653.8 872.7 L646.1 878.4 L638.4 884.0 L630.5 889.4 L622.5 894.6 L614.3 899.8 L606.0 904.7 L597.7 909.5 L589.2 914.1 L580.6 918.6 L571.9 922.9 L563.2 927.0 L554.3 931.0 L545.4 934.8 L536.4 938.4 L527.4 941.8 L518.3 945.0 L509.1 948.1 L499.9 951.0 L490.7 953.6 L481.4 956.1 L472.1 958.4 L462.8 960.5 L453.5 962.4 L444.2 964.1 L434.8 965.6 L425.5 966.9 L416.2 968.0 L406.9 968.9 L397.6 969.6 L388.4 970.0 L379.2 970.3 L370.1 970.4 L361.0 970.3 L351.9 970.0 L342.9 969.4 L334.0 968.7 L325.2 967.8 L316.5 966.6 L307.8 965.3 L299.2 963.8 L290.8 962.0 L282.4 960.1 L274.1 958.0 L266.0 955.6 L258.0 953.1 L250.1 950.4 L242.3 947.5 L234.7 944.4 L227.3 941.2 L219.9 937.7 L212.8 934.1 L205.8 930.2 L198.9 926.3 L192.2 922.1 L185.7 917.8 L179.4 913.2 L173.3 908.6 L167.3 903.8 L161.5 898.8 L156.0 893.6 L150.6 888.3 L145.4 882.9 L140.4 877.3 L135.7 871.6 L131.1 865.7 L126.8 859.7 L122.7 853.6 L118.8 847.4 L115.1 841.0 L111.6 834.5 L108.4 828.0 L105.4 821.3Z M150.4 801.7 L148.0 795.8 L145.8 789.8 L143.8 783.8 L142.0 777.6 L140.4 771.4 L139.1 765.1 L137.9 758.8 L137.0 752.4 L136.3 746.0 L135.7 739.5 L135.4 732.9 L135.3 726.3 L135.4 719.7 L135.8 713.1 L136.3 706.4 L137.1 699.7 L138.0 693.0 L139.2 686.3 L140.6 679.5 L142.2 672.8 L144.0 666.0 L146.0 659.3 L148.2 652.6 L150.6 645.8 L153.2 639.1 L156.0 632.5 L159.0 625.8 L162.2 619.2 L165.6 612.6 L169.2 606.1 L173.0 599.6 L176.9 593.2 L181.1 586.8 L185.4 580.5 L189.9 574.2 L194.6 568.0 L199.5 561.9 L204.5 555.9 L209.7 549.9 L215.0 544.0 L220.5 538.2 L226.2 532.5 L232.0 526.9 L237.9 521.4 L244.0 516.1 L250.2 510.8 L256.6 505.6 L263.1 500.5 L269.7 495.6 L276.4 490.8 L283.3 486.1 L290.3 481.5 L297.3 477.1 L304.5 472.8 L311.8 468.6 L319.1 464.6 L326.6 460.7 L334.1 457.0 L341.7 453.4 L349.4 450.0 L357.1 446.7 L364.9 443.6 L372.7 440.6 L380.6 437.8 L388.6 435.1 L396.6 432.7 L404.6 430.3 L412.6 428.2 L420.7 426.2 L428.7 424.4 L436.8 422.7 L444.9 421.3 L453.0 420.0 L461.1 418.8 L469.2 417.9 L477.3 417.1 L485.3 416.5 L493.3 416.1 L501.3 415.8 L509.2 415.8 L517.1 415.9 L525.0 416.2 L532.8 416.6 L540.5 417.3 L548.1 418.1 L555.7 419.1 L563.3 420.2 L570.7 421.5 L578.0 423.0 L585.3 424.7 L592.5 426.6 L599.5 428.6 L606.5 430.8 L613.3 433.1 L620.0 435.6 L626.6 438.3 L633.1 441.2 L639.5 444.2 L645.7 447.3 L651.8 450.6 L657.7 454.1 L663.5 457.7 L669.1 461.5 L674.6 465.4 L680.0 469.4 L685.1 473.6 L690.1 477.9 L695.0 482.4 L699.6 487.0 L704.1 491.7 L708.4 496.6 L712.6 501.5 L716.5 506.6 L720.3 511.8 L723.9 517.1 L727.2 522.5 L730.4 528.0 L733.4 533.7 L736.2 539.4 L738.8 545.2 L741.2 551.1 L743.4 557.0 L745.4 563.1 L747.1 569.2 L748.7 575.4 L750.1 581.7 L751.2 588.0 L752.2 594.4 L752.9 600.9 L753.4 607.4 L753.7 613.9 L753.8 620.5 L753.7 627.1 L753.4 633.8 L752.8 640.5 L752.1 647.2 L751.1 653.9 L750.0 660.6 L748.6 667.3 L747.0 674.1 L745.2 680.8 L743.2 687.6 L741.0 694.3 L738.6 701.0 L736.0 707.7 L733.2 714.4 L730.2 721.0 L726.9 727.6 L723.6 734.2 L720.0 740.7 L716.2 747.2 L712.2 753.7 L708.1 760.1 L703.7 766.4 L699.2 772.6 L694.6 778.8 L689.7 784.9 L684.7 791.0 L679.5 796.9 L674.2 802.8 L668.7 808.6 L663.0 814.3 L657.2 819.9 L651.2 825.4 L645.2 830.8 L638.9 836.1 L632.6 841.3 L626.1 846.3 L619.4 851.3 L612.7 856.1 L605.9 860.8 L598.9 865.3 L591.8 869.8 L584.7 874.1 L577.4 878.2 L570.0 882.3 L562.6 886.1 L555.1 889.9 L547.5 893.5 L539.8 896.9 L532.1 900.2 L524.3 903.3 L516.4 906.3 L508.5 909.1 L500.6 911.7 L492.6 914.2 L484.6 916.5 L476.6 918.7 L468.5 920.7 L460.4 922.5 L452.3 924.1 L444.2 925.6 L436.1 926.9 L428.0 928.0 L420.0 929.0 L411.9 929.7 L403.9 930.3 L395.9 930.8 L387.9 931.0 L379.9 931.1 L372.0 931.0 L364.2 930.7 L356.4 930.2 L348.7 929.6 L341.0 928.8 L333.4 927.8 L325.9 926.6 L318.5 925.3 L311.1 923.8 L303.9 922.1 L296.7 920.3 L289.6 918.3 L282.7 916.1 L275.9 913.7 L269.1 911.2 L262.5 908.5 L256.0 905.7 L249.7 902.7 L243.5 899.5 L237.4 896.2 L231.5 892.8 L225.7 889.2 L220.0 885.4 L214.5 881.5 L209.2 877.4 L204.0 873.2 L199.0 868.9 L194.2 864.5 L189.5 859.9 L185.0 855.1 L180.7 850.3 L176.6 845.3 L172.6 840.3 L168.9 835.1 L165.3 829.8 L161.9 824.3 L158.7 818.8 L155.7 813.2 L153.0 807.5 L150.4 801.7Z M203.5 778.5 L201.6 773.7 L199.8 768.8 L198.1 763.8 L196.7 758.8 L195.4 753.7 L194.3 748.6 L193.3 743.4 L192.6 738.1 L192.0 732.9 L191.5 727.5 L191.3 722.2 L191.2 716.8 L191.3 711.4 L191.6 705.9 L192.0 700.4 L192.6 695.0 L193.4 689.5 L194.4 683.9 L195.5 678.4 L196.8 672.9 L198.3 667.4 L199.9 661.8 L201.7 656.3 L203.7 650.8 L205.8 645.3 L208.1 639.9 L210.6 634.4 L213.2 629.0 L216.0 623.6 L218.9 618.3 L222.0 613.0 L225.3 607.7 L228.7 602.4 L232.2 597.3 L235.9 592.1 L239.8 587.1 L243.7 582.1 L247.8 577.1 L252.1 572.2 L256.5 567.4 L261.0 562.7 L265.6 558.0 L270.4 553.4 L275.3 548.9 L280.2 544.5 L285.3 540.2 L290.6 535.9 L295.9 531.8 L301.3 527.7 L306.8 523.8 L312.4 519.9 L318.1 516.2 L323.9 512.5 L329.8 509.0 L335.8 505.6 L341.8 502.3 L347.9 499.1 L354.0 496.1 L360.3 493.1 L366.6 490.3 L372.9 487.6 L379.3 485.1 L385.7 482.7 L392.2 480.4 L398.7 478.2 L405.2 476.1 L411.8 474.2 L418.4 472.5 L425.0 470.9 L431.6 469.4 L438.2 468.0 L444.9 466.8 L451.5 465.8 L458.1 464.8 L464.8 464.1 L471.4 463.4 L477.9 462.9 L484.5 462.6 L491.0 462.4 L497.5 462.3 L504.0 462.4 L510.4 462.6 L516.8 463.0 L523.2 463.5 L529.4 464.2 L535.7 465.0 L541.8 466.0 L547.9 467.0 L553.9 468.3 L559.9 469.7 L565.7 471.2 L571.5 472.8 L577.2 474.6 L582.8 476.5 L588.3 478.6 L593.8 480.8 L599.1 483.1 L604.3 485.6 L609.4 488.2 L614.3 490.9 L619.2 493.7 L624.0 496.7 L628.6 499.8 L633.1 503.0 L637.4 506.3 L641.7 509.7 L645.8 513.3 L649.7 516.9 L653.6 520.7 L657.2 524.5 L660.8 528.5 L664.2 532.6 L667.4 536.7 L670.5 541.0 L673.4 545.3 L676.2 549.8 L678.8 554.3 L681.2 558.9 L683.5 563.6 L685.7 568.3 L687.6 573.2 L689.4 578.1 L691.0 583.0 L692.5 588.1 L693.8 593.1 L694.9 598.3 L695.8 603.5 L696.6 608.7 L697.2 614.0 L697.6 619.3 L697.9 624.7 L698.0 630.1 L697.9 635.5 L697.6 640.9 L697.2 646.4 L696.5 651.9 L695.8 657.4 L694.8 662.9 L693.7 668.4 L692.4 674.0 L690.9 679.5 L689.3 685.0 L687.4 690.5 L685.5 696.0 L683.3 701.5 L681.0 707.0 L678.6 712.4 L675.9 717.8 L673.2 723.2 L670.2 728.6 L667.1 733.9 L663.9 739.2 L660.5 744.4 L656.9 749.6 L653.2 754.7 L649.4 759.8 L645.4 764.8 L641.3 769.7 L637.1 774.6 L632.7 779.4 L628.2 784.2 L623.5 788.9 L618.8 793.4 L613.9 797.9 L608.9 802.4 L603.8 806.7 L598.6 810.9 L593.3 815.1 L587.9 819.1 L582.3 823.1 L576.7 826.9 L571.0 830.7 L565.2 834.3 L559.4 837.8 L553.4 841.2 L547.4 844.5 L541.3 847.7 L535.1 850.8 L528.9 853.7 L522.6 856.5 L516.3 859.2 L509.9 861.8 L503.4 864.2 L497.0 866.5 L490.5 868.7 L483.9 870.7 L477.4 872.6 L470.8 874.4 L464.2 876.0 L457.6 877.5 L450.9 878.8 L444.3 880.0 L437.7 881.1 L431.0 882.0 L424.4 882.8 L417.8 883.4 L411.2 883.9 L404.7 884.3 L398.1 884.5 L391.6 884.5 L385.1 884.4 L378.7 884.2 L372.3 883.8 L366.0 883.3 L359.7 882.7 L353.5 881.8 L347.3 880.9 L341.3 879.8 L335.2 878.6 L329.3 877.2 L323.4 875.7 L317.6 874.0 L311.9 872.2 L306.3 870.3 L300.8 868.3 L295.4 866.1 L290.1 863.7 L284.9 861.3 L279.8 858.7 L274.8 856.0 L270.0 853.1 L265.2 850.2 L260.6 847.1 L256.1 843.9 L251.7 840.6 L247.5 837.1 L243.4 833.6 L239.4 829.9 L235.6 826.2 L231.9 822.3 L228.4 818.3 L225.0 814.3 L221.8 810.1 L218.7 805.9 L215.8 801.5 L213.0 797.1 L210.4 792.6 L207.9 787.9 L205.6 783.3 L203.5 778.5Z M272.4 748.5 L271.0 745.1 L269.7 741.6 L268.5 738.0 L267.5 734.4 L266.5 730.8 L265.8 727.1 L265.1 723.4 L264.5 719.7 L264.1 715.9 L263.8 712.1 L263.6 708.3 L263.6 704.4 L263.6 700.5 L263.8 696.6 L264.1 692.7 L264.6 688.8 L265.1 684.9 L265.8 680.9 L266.6 677.0 L267.6 673.0 L268.6 669.1 L269.8 665.1 L271.1 661.2 L272.5 657.3 L274.0 653.4 L275.7 649.5 L277.4 645.6 L279.3 641.7 L281.3 637.8 L283.4 634.0 L285.6 630.2 L287.9 626.5 L290.3 622.7 L292.9 619.0 L295.5 615.4 L298.2 611.7 L301.1 608.1 L304.0 604.6 L307.1 601.1 L310.2 597.7 L313.4 594.3 L316.7 591.0 L320.1 587.7 L323.6 584.5 L327.2 581.3 L330.8 578.2 L334.5 575.2 L338.3 572.2 L342.2 569.3 L346.2 566.5 L350.2 563.8 L354.2 561.1 L358.4 558.5 L362.6 556.0 L366.8 553.5 L371.1 551.2 L375.5 548.9 L379.9 546.7 L384.3 544.6 L388.8 542.6 L393.4 540.7 L397.9 538.9 L402.5 537.1 L407.1 535.5 L411.8 533.9 L416.5 532.5 L421.2 531.1 L425.9 529.9 L430.6 528.7 L435.3 527.6 L440.0 526.7 L444.8 525.8 L449.5 525.1 L454.3 524.4 L459.0 523.8 L463.7 523.4 L468.4 523.0 L473.1 522.8 L477.8 522.6 L482.4 522.6 L487.0 522.7 L491.6 522.8 L496.2 523.1 L500.7 523.5 L505.2 523.9 L509.6 524.5 L514.0 525.2 L518.4 526.0 L522.7 526.9 L526.9 527.8 L531.1 528.9 L535.3 530.1 L539.3 531.4 L543.3 532.8 L547.3 534.2 L551.2 535.8 L554.9 537.5 L558.7 539.2 L562.3 541.1 L565.9 543.0 L569.3 545.0 L572.7 547.1 L576.0 549.3 L579.2 551.6 L582.4 554.0 L585.4 556.5 L588.3 559.0 L591.2 561.6 L593.9 564.3 L596.5 567.1 L599.0 569.9 L601.5 572.8 L603.8 575.8 L606.0 578.8 L608.1 581.9 L610.0 585.1 L611.9 588.3 L613.7 591.6 L615.3 595.0 L616.8 598.4 L618.2 601.8 L619.5 605.3 L620.7 608.8 L621.7 612.4 L622.6 616.1 L623.4 619.7 L624.1 623.4 L624.6 627.2 L625.1 631.0 L625.4 634.8 L625.6 638.6 L625.6 642.4 L625.5 646.3 L625.3 650.2 L625.0 654.1 L624.6 658.0 L624.0 662.0 L623.3 665.9 L622.5 669.9 L621.6 673.8 L620.6 677.8 L619.4 681.7 L618.1 685.6 L616.7 689.6 L615.2 693.5 L613.5 697.4 L611.7 701.3 L609.9 705.2 L607.9 709.0 L605.8 712.8 L603.6 716.6 L601.3 720.4 L598.8 724.1 L596.3 727.8 L593.7 731.5 L590.9 735.1 L588.1 738.7 L585.1 742.2 L582.1 745.7 L579.0 749.2 L575.7 752.6 L572.4 755.9 L569.0 759.2 L565.6 762.4 L562.0 765.5 L558.3 768.6 L554.6 771.7 L550.8 774.6 L546.9 777.5 L543.0 780.3 L539.0 783.1 L534.9 785.8 L530.8 788.4 L526.6 790.9 L522.3 793.3 L518.0 795.7 L513.7 797.9 L509.3 800.1 L504.8 802.2 L500.3 804.2 L495.8 806.2 L491.2 808.0 L486.6 809.7 L482.0 811.4 L477.4 812.9 L472.7 814.4 L468.0 815.7 L463.3 817.0 L458.6 818.1 L453.8 819.2 L449.1 820.2 L444.4 821.0 L439.6 821.8 L434.9 822.5 L430.2 823.0 L425.5 823.5 L420.7 823.8 L416.1 824.1 L411.4 824.2 L406.7 824.2 L402.1 824.2 L397.5 824.0 L393.0 823.8 L388.4 823.4 L384.0 822.9 L379.5 822.3 L375.1 821.7 L370.8 820.9 L366.5 820.0 L362.2 819.0 L358.0 817.9 L353.9 816.7 L349.8 815.5 L345.8 814.1 L341.9 812.6 L338.0 811.1 L334.2 809.4 L330.5 807.6 L326.9 805.8 L323.3 803.8 L319.8 801.8 L316.4 799.7 L313.1 797.5 L309.9 795.2 L306.8 792.8 L303.8 790.4 L300.8 787.9 L298.0 785.3 L295.3 782.6 L292.6 779.8 L290.1 777.0 L287.7 774.1 L285.4 771.1 L283.2 768.0 L281.1 764.9 L279.1 761.8 L277.3 758.5 L275.5 755.2 L273.9 751.9 L272.4 748.5Z M409.8 688.6 L409.5 687.9 L409.2 687.2 L409.0 686.5 L408.8 685.8 L408.6 685.0 L408.4 684.3 L408.3 683.5 L408.2 682.8 L408.1 682.0 L408.0 681.2 L408.0 680.5 L408.0 679.7 L408.0 678.9 L408.0 678.1 L408.1 677.3 L408.2 676.5 L408.3 675.7 L408.5 674.9 L408.6 674.1 L408.8 673.3 L409.0 672.6 L409.3 671.8 L409.5 671.0 L409.8 670.2 L410.1 669.4 L410.4 668.6 L410.8 667.8 L411.2 667.0 L411.6 666.2 L412.0 665.5 L412.5 664.7 L412.9 663.9 L413.4 663.2 L413.9 662.4 L414.5 661.7 L415.0 661.0 L415.6 660.2 L416.2 659.5 L416.8 658.8 L417.4 658.1 L418.1 657.4 L418.7 656.8 L419.4 656.1 L420.1 655.4 L420.9 654.8 L421.6 654.2 L422.3 653.6 L423.1 653.0 L423.9 652.4 L424.7 651.8 L425.5 651.3 L426.3 650.7 L427.2 650.2 L428.0 649.7 L428.9 649.2 L429.7 648.7 L430.6 648.3 L431.5 647.8 L432.4 647.4 L433.3 647.0 L434.2 646.6 L435.2 646.2 L436.1 645.9 L437.0 645.6 L438.0 645.2 L438.9 644.9 L439.8 644.7 L440.8 644.4 L441.8 644.2 L442.7 644.0 L443.7 643.8 L444.6 643.6 L445.6 643.4 L446.5 643.3 L447.5 643.2 L448.4 643.1 L449.4 643.0 L450.3 643.0 L451.3 643.0 L452.2 642.9 L453.2 643.0 L454.1 643.0 L455.0 643.0 L455.9 643.1 L456.8 643.2 L457.7 643.3 L458.6 643.5 L459.5 643.6 L460.4 643.8 L461.2 644.0 L462.1 644.2 L462.9 644.5 L463.7 644.7 L464.5 645.0 L465.3 645.3 L466.1 645.6 L466.9 645.9 L467.6 646.3 L468.4 646.7 L469.1 647.1 L469.8 647.5 L470.5 647.9 L471.1 648.4 L471.8 648.8 L472.4 649.3 L473.0 649.8 L473.6 650.3 L474.2 650.8 L474.8 651.4 L475.3 651.9 L475.8 652.5 L476.3 653.1 L476.8 653.7 L477.2 654.3 L477.6 654.9 L478.0 655.6 L478.4 656.2 L478.7 656.9 L479.1 657.6 L479.4 658.3 L479.7 659.0 L479.9 659.7 L480.2 660.4 L480.4 661.1 L480.6 661.8 L480.7 662.6 L480.9 663.3 L481.0 664.1 L481.1 664.8 L481.1 665.6 L481.2 666.4 L481.2 667.2 L481.2 667.9 L481.1 668.7 L481.0 669.5 L481.0 670.3 L480.8 671.1 L480.7 671.9 L480.5 672.7 L480.4 673.5 L480.1 674.3 L479.9 675.1 L479.6 675.9 L479.4 676.7 L479.1 677.5 L478.7 678.3 L478.4 679.1 L478.0 679.8 L477.6 680.6 L477.2 681.4 L476.7 682.2 L476.2 682.9 L475.8 683.7 L475.2 684.4 L474.7 685.2 L474.2 685.9 L473.6 686.6 L473.0 687.3 L472.4 688.0 L471.7 688.7 L471.1 689.4 L470.4 690.1 L469.7 690.8 L469.0 691.4 L468.3 692.0 L467.6 692.7 L466.8 693.3 L466.1 693.9 L465.3 694.5 L464.5 695.0 L463.7 695.6 L462.8 696.1 L462.0 696.7 L461.2 697.2 L460.3 697.7 L459.4 698.1 L458.5 698.6 L457.7 699.0 L456.8 699.5 L455.8 699.9 L454.9 700.2 L454.0 700.6 L453.1 701.0 L452.1 701.3 L451.2 701.6 L450.3 701.9 L449.3 702.2 L448.4 702.4 L447.4 702.7 L446.5 702.9 L445.5 703.1 L444.5 703.3 L443.6 703.4 L442.6 703.5 L441.7 703.7 L440.7 703.7 L439.8 703.8 L438.8 703.9 L437.9 703.9 L436.9 703.9 L436.0 703.9 L435.1 703.9 L434.2 703.8 L433.2 703.7 L432.3 703.6 L431.4 703.5 L430.5 703.4 L429.7 703.2 L428.8 703.0 L427.9 702.8 L427.1 702.6 L426.3 702.4 L425.4 702.1 L424.6 701.9 L423.8 701.6 L423.0 701.2 L422.3 700.9 L421.5 700.5 L420.8 700.2 L420.1 699.8 L419.4 699.4 L418.7 698.9 L418.0 698.5 L417.4 698.0 L416.7 697.6 L416.1 697.1 L415.5 696.6 L415.0 696.0 L414.4 695.5 L413.9 694.9 L413.4 694.4 L412.9 693.8 L412.4 693.2 L412.0 692.5 L411.5 691.9 L411.1 691.3 L410.8 690.6 L410.4 690.0 L410.1 689.3 L409.8 688.6Z" fill="none" stroke="#000" stroke-opacity="0.66" stroke-width="0.85"/></g><path d="M408.3 399.6 H679.1" stroke="#000" stroke-opacity="0.5" stroke-width="1.1" fill="none"/><path d="M678.6 399.6 V672.4" stroke="#444" stroke-opacity="0.8" stroke-width="1" fill="none"/><path d="M415.3 399.6 V665.9" stroke="#555" stroke-opacity="0.45" stroke-width="1" fill="none"/><path d="M408.3 665.9 H679.1" stroke="#333" stroke-width="1" fill="none"/><path d="M415.3 666.4 V673.1 M481.1 666.4 V673.1 M547.0 666.4 V673.1 M612.8 666.4 V673.1" stroke="#000" stroke-opacity="0.36" stroke-width="0.9" fill="none"/><path d="M408.3 612.6 H415.3 M408.3 559.4 H415.3 M408.3 506.1 H415.3 M408.3 452.9 H415.3" stroke="#000" stroke-opacity="0.5" stroke-width="0.9" fill="none"/><text transform="translate(406.30 663.50) scale(0.920 1)" text-anchor="end" class="t">0</text><text transform="translate(406.30 610.24) scale(0.920 1)" text-anchor="end" class="t">20</text><text transform="translate(406.30 556.98) scale(0.920 1)" text-anchor="end" class="t">40</text><text transform="translate(406.30 503.72) scale(0.920 1)" text-anchor="end" class="t">60</text><text transform="translate(406.30 450.46) scale(0.920 1)" text-anchor="end" class="t">80</text><text transform="translate(406.30 397.20) scale(0.920 1)" text-anchor="end" class="t">100</text><text transform="translate(415.30 688.60) scale(0.920 1)" text-anchor="middle" class="t">0</text><text transform="translate(481.12 688.60) scale(0.920 1)" text-anchor="middle" class="t">5</text><text transform="translate(546.95 688.60) scale(0.920 1)" text-anchor="middle" class="t">10</text><text transform="translate(612.78 688.60) scale(0.920 1)" text-anchor="middle" class="t">15</text><text transform="translate(678.60 688.60) scale(0.920 1)" text-anchor="middle" class="t">20</text><text transform="translate(546.45 706.80) scale(0.910 1)" text-anchor="middle" class="a">A: LCB (% bwoc)</text><text transform="translate(379.1 532.5) rotate(-90) scale(0.91 1)" text-anchor="middle" class="a">B: RCA (% by vol)</text><g clip-path="url(#cd)"><rect x="550.2" y="404.6" width="15.0" height="14.7" fill="#fff" stroke="#555" stroke-width="0.9"/></g><text transform="translate(557.70 416.60) scale(0.880 1)" text-anchor="middle" class="b" font-size="12.9">26</text><g clip-path="url(#cd)"><rect x="562.7" y="457.9" width="15.0" height="14.7" fill="#fff" stroke="#555" stroke-width="0.9"/></g><text transform="translate(570.20 469.90) scale(0.880 1)" text-anchor="middle" class="b" font-size="12.9">27</text><g clip-path="url(#cd)"><rect x="555.6" y="527.4" width="15.0" height="14.7" fill="#fff" stroke="#555" stroke-width="0.9"/></g><text transform="translate(563.10 539.40) scale(0.880 1)" text-anchor="middle" class="b" font-size="12.9">28</text><g clip-path="url(#cd)"><rect x="443.5" y="628.4" width="15.0" height="14.7" fill="#fff" stroke="#555" stroke-width="0.9"/></g><text transform="translate(451.00 640.40) scale(0.880 1)" text-anchor="middle" class="b" font-size="12.9">29</text><rect x="587.2" y="401.8" width="88" height="25.7" fill="#fff" stroke="#555" stroke-width="1"/><rect x="606.7" y="404.9" width="47.5" height="18.3" fill="url(#lg)"/><text transform="translate(588.10 419.00) scale(0.930 1)" text-anchor="start" class="l">10</text><text transform="translate(659.40 419.00) scale(0.930 1)" text-anchor="start" class="l">34</text><text transform="translate(674.60 441.20) scale(1.020 1)" text-anchor="end" class="d" font-size="13.6">28 days</text><text x="525.9" y="753.4" text-anchor="middle" class="c">(d) 28 days</text></g>
<g><rect x="46.5" y="788.0" width="269.7" height="269.1" fill="url(#ge)"/><g clip-path="url(#ce)"><path d="M-207.1 1215.5 L-209.7 1209.0 L-212.2 1202.4 L-214.5 1195.7 L-216.5 1188.9 L-218.2 1182.0 L-219.8 1175.1 L-221.1 1168.1 L-222.2 1161.0 L-223.0 1153.8 L-223.6 1146.7 L-224.0 1139.4 L-224.1 1132.1 L-224.0 1124.8 L-223.7 1117.4 L-223.1 1110.1 L-222.3 1102.6 L-221.2 1095.2 L-219.9 1087.8 L-218.4 1080.3 L-216.7 1072.8 L-214.7 1065.4 L-212.5 1057.9 L-210.0 1050.5 L-207.4 1043.1 L-204.5 1035.7 L-201.4 1028.3 L-198.0 1020.9 L-194.5 1013.6 L-190.7 1006.3 L-186.7 999.1 L-182.5 992.0 L-178.1 984.8 L-173.5 977.8 L-168.7 970.8 L-163.7 963.9 L-158.5 957.0 L-153.1 950.3 L-147.5 943.6 L-141.7 937.0 L-135.8 930.5 L-129.7 924.1 L-123.4 917.8 L-116.9 911.7 L-110.3 905.6 L-103.5 899.6 L-96.6 893.8 L-89.5 888.1 L-82.3 882.5 L-74.9 877.0 L-67.4 871.7 L-59.8 866.5 L-52.0 861.5 L-44.1 856.6 L-36.1 851.9 L-28.0 847.3 L-19.8 842.8 L-11.5 838.5 L-3.2 834.4 L5.3 830.5 L13.9 826.7 L22.5 823.1 L31.2 819.6 L39.9 816.4 L48.7 813.3 L57.6 810.4 L66.5 807.6 L75.4 805.1 L84.4 802.7 L93.4 800.5 L102.4 798.5 L111.4 796.7 L120.5 795.1 L129.5 793.7 L138.5 792.5 L147.6 791.4 L156.6 790.6 L165.5 790.0 L174.5 789.5 L183.4 789.2 L192.2 789.2 L201.0 789.3 L209.8 789.6 L218.5 790.2 L227.1 790.9 L235.7 791.8 L244.2 792.9 L252.6 794.2 L260.9 795.7 L269.1 797.4 L277.2 799.2 L285.2 801.3 L293.1 803.6 L300.9 806.0 L308.5 808.6 L316.0 811.4 L323.4 814.4 L330.7 817.5 L337.8 820.9 L344.7 824.4 L351.5 828.0 L358.2 831.9 L364.6 835.9 L370.9 840.1 L377.1 844.4 L383.1 848.9 L388.8 853.6 L394.4 858.3 L399.9 863.3 L405.1 868.4 L410.1 873.6 L414.9 879.0 L419.6 884.5 L424.0 890.1 L428.2 895.9 L432.2 901.8 L436.0 907.8 L439.6 913.9 L443.0 920.1 L446.1 926.4 L449.0 932.9 L451.7 939.4 L454.2 946.0 L456.4 952.7 L458.4 959.5 L460.2 966.4 L461.7 973.3 L463.0 980.3 L464.1 987.4 L465.0 994.5 L465.6 1001.7 L465.9 1009.0 L466.1 1016.3 L466.0 1023.6 L465.6 1030.9 L465.0 1038.3 L464.2 1045.7 L463.2 1053.2 L461.9 1060.6 L460.4 1068.1 L458.6 1075.5 L456.6 1083.0 L454.4 1090.5 L452.0 1097.9 L449.3 1105.3 L446.4 1112.7 L443.3 1120.1 L440.0 1127.5 L436.4 1134.8 L432.7 1142.0 L428.7 1149.3 L424.5 1156.4 L420.1 1163.6 L415.5 1170.6 L410.7 1177.6 L405.7 1184.5 L400.4 1191.4 L395.1 1198.1 L389.5 1204.8 L383.7 1211.4 L377.8 1217.9 L371.6 1224.3 L365.3 1230.6 L358.9 1236.7 L352.3 1242.8 L345.5 1248.8 L338.5 1254.6 L331.4 1260.3 L324.2 1265.9 L316.8 1271.4 L309.3 1276.7 L301.7 1281.9 L294.0 1286.9 L286.1 1291.8 L278.1 1296.5 L270.0 1301.1 L261.8 1305.6 L253.5 1309.8 L245.1 1314.0 L236.6 1317.9 L228.1 1321.7 L219.5 1325.3 L210.8 1328.8 L202.0 1332.0 L193.2 1335.1 L184.4 1338.0 L175.5 1340.8 L166.5 1343.3 L157.5 1345.7 L148.6 1347.9 L139.5 1349.8 L130.5 1351.6 L121.5 1353.3 L112.4 1354.7 L103.4 1355.9 L94.4 1356.9 L85.4 1357.8 L76.4 1358.4 L67.5 1358.9 L58.6 1359.1 L49.7 1359.2 L40.9 1359.1 L32.1 1358.7 L23.5 1358.2 L14.8 1357.5 L6.3 1356.6 L-2.2 1355.5 L-10.6 1354.2 L-18.9 1352.7 L-27.1 1351.0 L-35.2 1349.1 L-43.2 1347.1 L-51.1 1344.8 L-58.9 1342.4 L-66.5 1339.8 L-74.1 1337.0 L-81.4 1334.0 L-88.7 1330.9 L-95.8 1327.5 L-102.8 1324.0 L-109.6 1320.3 L-116.2 1316.5 L-122.7 1312.5 L-129.0 1308.3 L-135.1 1304.0 L-141.1 1299.5 L-146.9 1294.8 L-152.5 1290.0 L-157.9 1285.1 L-163.1 1280.0 L-168.2 1274.8 L-173.0 1269.4 L-177.6 1263.9 L-182.0 1258.3 L-186.3 1252.5 L-190.3 1246.6 L-194.1 1240.6 L-197.6 1234.5 L-201.0 1228.3 L-204.1 1222.0 L-207.1 1215.5Z M-158.4 1194.6 L-160.7 1189.0 L-162.8 1183.4 L-164.7 1177.7 L-166.4 1171.9 L-167.9 1166.0 L-169.3 1160.1 L-170.4 1154.1 L-171.3 1148.1 L-172.0 1142.0 L-172.5 1135.9 L-172.8 1129.7 L-172.9 1123.5 L-172.9 1117.3 L-172.6 1111.0 L-172.1 1104.7 L-171.4 1098.4 L-170.5 1092.1 L-169.4 1085.8 L-168.1 1079.4 L-166.6 1073.0 L-164.9 1066.7 L-163.0 1060.3 L-161.0 1054.0 L-158.7 1047.7 L-156.2 1041.4 L-153.6 1035.1 L-150.7 1028.8 L-147.7 1022.6 L-144.5 1016.4 L-141.1 1010.3 L-137.5 1004.1 L-133.8 998.1 L-129.9 992.1 L-125.8 986.1 L-121.5 980.2 L-117.1 974.4 L-112.5 968.6 L-107.7 963.0 L-102.8 957.4 L-97.7 951.8 L-92.5 946.4 L-87.2 941.0 L-81.7 935.7 L-76.0 930.6 L-70.2 925.5 L-64.3 920.5 L-58.3 915.7 L-52.1 910.9 L-45.9 906.3 L-39.5 901.7 L-33.0 897.3 L-26.4 893.0 L-19.6 888.9 L-12.8 884.8 L-5.9 880.9 L1.0 877.1 L8.1 873.5 L15.2 870.0 L22.5 866.6 L29.7 863.4 L37.1 860.3 L44.5 857.4 L51.9 854.6 L59.5 852.0 L67.0 849.5 L74.6 847.2 L82.2 845.0 L89.8 843.0 L97.5 841.1 L105.2 839.4 L112.9 837.9 L120.6 836.5 L128.2 835.3 L135.9 834.2 L143.6 833.4 L151.3 832.6 L158.9 832.1 L166.5 831.7 L174.1 831.5 L181.7 831.4 L189.2 831.6 L196.6 831.8 L204.0 832.3 L211.4 832.9 L218.7 833.7 L225.9 834.6 L233.1 835.7 L240.1 837.0 L247.1 838.4 L254.0 840.0 L260.9 841.8 L267.6 843.7 L274.2 845.7 L280.7 848.0 L287.1 850.4 L293.4 852.9 L299.6 855.6 L305.6 858.4 L311.5 861.4 L317.3 864.5 L323.0 867.8 L328.5 871.2 L333.9 874.8 L339.1 878.5 L344.2 882.3 L349.1 886.3 L353.9 890.3 L358.5 894.6 L363.0 898.9 L367.2 903.4 L371.4 907.9 L375.3 912.6 L379.1 917.4 L382.7 922.3 L386.1 927.3 L389.3 932.4 L392.4 937.6 L395.2 942.9 L397.9 948.3 L400.4 953.8 L402.7 959.4 L404.8 965.0 L406.7 970.7 L408.4 976.5 L409.9 982.4 L411.2 988.3 L412.3 994.2 L413.2 1000.3 L414.0 1006.4 L414.5 1012.5 L414.8 1018.6 L414.9 1024.8 L414.8 1031.1 L414.5 1037.4 L414.0 1043.6 L413.3 1050.0 L412.4 1056.3 L411.3 1062.6 L410.1 1069.0 L408.6 1075.3 L406.9 1081.7 L405.0 1088.0 L402.9 1094.4 L400.6 1100.7 L398.2 1107.0 L395.5 1113.3 L392.7 1119.6 L389.7 1125.8 L386.5 1132.0 L383.1 1138.1 L379.5 1144.2 L375.7 1150.3 L371.8 1156.3 L367.7 1162.3 L363.4 1168.2 L359.0 1174.0 L354.4 1179.7 L349.7 1185.4 L344.8 1191.0 L339.7 1196.6 L334.5 1202.0 L329.1 1207.4 L323.6 1212.6 L318.0 1217.8 L312.2 1222.9 L306.3 1227.9 L300.2 1232.7 L294.1 1237.5 L287.8 1242.1 L281.4 1246.7 L274.9 1251.1 L268.3 1255.4 L261.6 1259.5 L254.8 1263.6 L247.9 1267.5 L240.9 1271.3 L233.9 1274.9 L226.7 1278.4 L219.5 1281.8 L212.2 1285.0 L204.9 1288.1 L197.5 1291.0 L190.0 1293.8 L182.5 1296.4 L175.0 1298.9 L167.4 1301.2 L159.8 1303.4 L152.1 1305.4 L144.5 1307.3 L136.8 1309.0 L129.1 1310.5 L121.4 1311.9 L113.7 1313.1 L106.0 1314.1 L98.3 1315.0 L90.7 1315.7 L83.0 1316.3 L75.4 1316.7 L67.8 1316.9 L60.3 1317.0 L52.8 1316.8 L45.3 1316.6 L37.9 1316.1 L30.6 1315.5 L23.3 1314.7 L16.0 1313.8 L8.9 1312.7 L1.8 1311.4 L-5.2 1310.0 L-12.1 1308.4 L-18.9 1306.6 L-25.6 1304.7 L-32.2 1302.6 L-38.7 1300.4 L-45.1 1298.0 L-51.4 1295.5 L-57.6 1292.8 L-63.7 1290.0 L-69.6 1287.0 L-75.4 1283.9 L-81.0 1280.6 L-86.6 1277.2 L-91.9 1273.6 L-97.2 1269.9 L-102.2 1266.1 L-107.2 1262.1 L-111.9 1258.0 L-116.6 1253.8 L-121.0 1249.5 L-125.3 1245.0 L-129.4 1240.5 L-133.4 1235.8 L-137.1 1231.0 L-140.7 1226.1 L-144.1 1221.1 L-147.4 1216.0 L-150.4 1210.7 L-153.3 1205.4 L-155.9 1200.1 L-158.4 1194.6Z M-99.3 1169.1 L-101.1 1164.7 L-102.8 1160.3 L-104.3 1155.8 L-105.6 1151.2 L-106.8 1146.6 L-107.8 1141.9 L-108.7 1137.2 L-109.4 1132.5 L-110.0 1127.7 L-110.4 1122.9 L-110.7 1118.0 L-110.8 1113.1 L-110.7 1108.2 L-110.5 1103.2 L-110.1 1098.3 L-109.5 1093.3 L-108.8 1088.3 L-108.0 1083.3 L-106.9 1078.3 L-105.8 1073.3 L-104.4 1068.3 L-102.9 1063.3 L-101.3 1058.3 L-99.5 1053.3 L-97.6 1048.3 L-95.5 1043.4 L-93.2 1038.4 L-90.9 1033.5 L-88.3 1028.6 L-85.6 1023.8 L-82.8 1019.0 L-79.9 1014.2 L-76.8 1009.5 L-73.6 1004.8 L-70.2 1000.1 L-66.7 995.5 L-63.1 991.0 L-59.3 986.5 L-55.4 982.1 L-51.5 977.7 L-47.3 973.4 L-43.1 969.2 L-38.8 965.0 L-34.3 961.0 L-29.8 957.0 L-25.1 953.0 L-20.4 949.2 L-15.5 945.5 L-10.6 941.8 L-5.5 938.2 L-0.4 934.7 L4.8 931.4 L10.1 928.1 L15.5 924.9 L20.9 921.8 L26.4 918.8 L32.0 916.0 L37.6 913.2 L43.3 910.5 L49.1 908.0 L54.8 905.6 L60.7 903.3 L66.6 901.1 L72.5 899.0 L78.4 897.0 L84.4 895.2 L90.4 893.5 L96.4 891.9 L102.5 890.4 L108.5 889.1 L114.6 887.9 L120.6 886.8 L126.7 885.8 L132.8 885.0 L138.8 884.3 L144.9 883.8 L150.9 883.3 L156.9 883.0 L162.9 882.8 L168.8 882.8 L174.7 882.9 L180.6 883.1 L186.5 883.5 L192.3 883.9 L198.0 884.6 L203.7 885.3 L209.3 886.2 L214.9 887.2 L220.4 888.3 L225.9 889.6 L231.3 890.9 L236.6 892.5 L241.8 894.1 L246.9 895.8 L252.0 897.7 L256.9 899.7 L261.8 901.8 L266.6 904.1 L271.2 906.4 L275.8 908.9 L280.2 911.5 L284.6 914.2 L288.8 917.0 L293.0 919.9 L297.0 922.9 L300.9 926.0 L304.6 929.2 L308.3 932.6 L311.8 936.0 L315.1 939.5 L318.4 943.1 L321.5 946.8 L324.5 950.6 L327.3 954.5 L330.0 958.4 L332.5 962.4 L334.9 966.5 L337.2 970.7 L339.3 975.0 L341.3 979.3 L343.1 983.7 L344.7 988.1 L346.2 992.6 L347.6 997.2 L348.8 1001.8 L349.8 1006.5 L350.7 1011.2 L351.4 1015.9 L352.0 1020.7 L352.4 1025.5 L352.6 1030.4 L352.7 1035.3 L352.6 1040.2 L352.4 1045.2 L352.0 1050.1 L351.5 1055.1 L350.8 1060.1 L349.9 1065.1 L348.9 1070.1 L347.7 1075.1 L346.4 1080.1 L344.9 1085.1 L343.3 1090.1 L341.5 1095.1 L339.5 1100.1 L337.4 1105.0 L335.2 1110.0 L332.8 1114.9 L330.3 1119.8 L327.6 1124.6 L324.8 1129.4 L321.8 1134.2 L318.7 1138.9 L315.5 1143.6 L312.1 1148.3 L308.7 1152.9 L305.0 1157.4 L301.3 1161.9 L297.4 1166.3 L293.4 1170.7 L289.3 1175.0 L285.1 1179.2 L280.7 1183.3 L276.3 1187.4 L271.7 1191.4 L267.1 1195.3 L262.3 1199.2 L257.5 1202.9 L252.5 1206.6 L247.5 1210.2 L242.3 1213.6 L237.1 1217.0 L231.8 1220.3 L226.5 1223.5 L221.0 1226.6 L215.5 1229.6 L210.0 1232.4 L204.3 1235.2 L198.6 1237.9 L192.9 1240.4 L187.1 1242.8 L181.3 1245.1 L175.4 1247.3 L169.5 1249.4 L163.5 1251.4 L157.6 1253.2 L151.6 1254.9 L145.5 1256.5 L139.5 1258.0 L133.4 1259.3 L127.4 1260.5 L121.3 1261.6 L115.2 1262.5 L109.2 1263.4 L103.1 1264.1 L97.1 1264.6 L91.1 1265.1 L85.1 1265.4 L79.1 1265.5 L73.1 1265.6 L67.2 1265.5 L61.3 1265.3 L55.5 1264.9 L49.7 1264.4 L43.9 1263.8 L38.2 1263.1 L32.6 1262.2 L27.0 1261.2 L21.5 1260.1 L16.1 1258.8 L10.7 1257.4 L5.4 1255.9 L0.2 1254.3 L-4.9 1252.5 L-10.0 1250.7 L-15.0 1248.7 L-19.8 1246.6 L-24.6 1244.3 L-29.3 1242.0 L-33.8 1239.5 L-38.3 1236.9 L-42.6 1234.2 L-46.9 1231.4 L-51.0 1228.5 L-55.0 1225.5 L-58.9 1222.4 L-62.7 1219.1 L-66.3 1215.8 L-69.8 1212.4 L-73.2 1208.9 L-76.4 1205.3 L-79.5 1201.6 L-82.5 1197.8 L-85.3 1193.9 L-88.0 1190.0 L-90.6 1186.0 L-93.0 1181.9 L-95.2 1177.7 L-97.3 1173.4 L-99.3 1169.1Z M-16.8 1133.6 L-17.9 1130.8 L-19.0 1128.0 L-19.9 1125.2 L-20.8 1122.4 L-21.5 1119.5 L-22.1 1116.6 L-22.7 1113.6 L-23.1 1110.6 L-23.5 1107.7 L-23.8 1104.6 L-23.9 1101.6 L-24.0 1098.5 L-23.9 1095.5 L-23.8 1092.4 L-23.5 1089.3 L-23.2 1086.1 L-22.8 1083.0 L-22.2 1079.9 L-21.6 1076.8 L-20.8 1073.6 L-20.0 1070.5 L-19.1 1067.4 L-18.1 1064.2 L-16.9 1061.1 L-15.7 1058.0 L-14.4 1054.9 L-13.0 1051.8 L-11.5 1048.8 L-9.9 1045.7 L-8.3 1042.7 L-6.5 1039.7 L-4.7 1036.7 L-2.7 1033.7 L-0.7 1030.8 L1.4 1027.9 L3.6 1025.0 L5.9 1022.1 L8.2 1019.3 L10.6 1016.6 L13.1 1013.8 L15.7 1011.2 L18.3 1008.5 L21.1 1005.9 L23.8 1003.4 L26.7 1000.9 L29.6 998.4 L32.6 996.0 L35.6 993.7 L38.7 991.4 L41.9 989.1 L45.1 987.0 L48.3 984.9 L51.6 982.8 L55.0 980.8 L58.4 978.9 L61.8 977.0 L65.3 975.2 L68.8 973.5 L72.4 971.8 L76.0 970.2 L79.6 968.7 L83.3 967.3 L86.9 965.9 L90.6 964.6 L94.4 963.4 L98.1 962.2 L101.9 961.2 L105.6 960.2 L109.4 959.3 L113.2 958.4 L117.0 957.7 L120.8 957.0 L124.6 956.4 L128.4 955.9 L132.1 955.4 L135.9 955.1 L139.7 954.8 L143.4 954.6 L147.2 954.5 L150.9 954.5 L154.6 954.5 L158.3 954.7 L161.9 954.9 L165.6 955.2 L169.2 955.6 L172.7 956.0 L176.3 956.6 L179.7 957.2 L183.2 957.9 L186.6 958.7 L190.0 959.6 L193.3 960.5 L196.5 961.5 L199.7 962.6 L202.9 963.8 L206.0 965.1 L209.0 966.4 L212.0 967.8 L215.0 969.3 L217.8 970.8 L220.6 972.4 L223.3 974.1 L226.0 975.9 L228.6 977.7 L231.1 979.6 L233.5 981.5 L235.8 983.5 L238.1 985.6 L240.3 987.7 L242.4 989.9 L244.5 992.2 L246.4 994.5 L248.3 996.9 L250.0 999.3 L251.7 1001.8 L253.3 1004.3 L254.8 1006.9 L256.2 1009.5 L257.5 1012.1 L258.8 1014.8 L259.9 1017.6 L260.9 1020.4 L261.9 1023.2 L262.7 1026.0 L263.5 1028.9 L264.1 1031.8 L264.7 1034.8 L265.1 1037.7 L265.5 1040.7 L265.7 1043.8 L265.9 1046.8 L265.9 1049.9 L265.9 1052.9 L265.7 1056.0 L265.5 1059.1 L265.2 1062.2 L264.7 1065.4 L264.2 1068.5 L263.5 1071.6 L262.8 1074.8 L262.0 1077.9 L261.0 1081.0 L260.0 1084.2 L258.9 1087.3 L257.7 1090.4 L256.4 1093.5 L255.0 1096.6 L253.5 1099.6 L251.9 1102.7 L250.2 1105.7 L248.5 1108.7 L246.6 1111.7 L244.7 1114.7 L242.7 1117.6 L240.5 1120.5 L238.4 1123.4 L236.1 1126.2 L233.8 1129.0 L231.3 1131.8 L228.8 1134.5 L226.3 1137.2 L223.6 1139.9 L220.9 1142.5 L218.1 1145.0 L215.3 1147.5 L212.4 1150.0 L209.4 1152.4 L206.3 1154.7 L203.2 1157.0 L200.1 1159.2 L196.9 1161.4 L193.6 1163.5 L190.3 1165.6 L187.0 1167.6 L183.6 1169.5 L180.1 1171.4 L176.6 1173.2 L173.1 1174.9 L169.6 1176.6 L166.0 1178.2 L162.3 1179.7 L158.7 1181.1 L155.0 1182.5 L151.3 1183.8 L147.6 1185.0 L143.9 1186.2 L140.1 1187.2 L136.3 1188.2 L132.6 1189.1 L128.8 1190.0 L125.0 1190.7 L121.2 1191.4 L117.4 1192.0 L113.6 1192.5 L109.8 1193.0 L106.0 1193.3 L102.3 1193.6 L98.5 1193.8 L94.8 1193.9 L91.0 1193.9 L87.3 1193.9 L83.7 1193.7 L80.0 1193.5 L76.4 1193.2 L72.8 1192.8 L69.2 1192.3 L65.7 1191.8 L62.2 1191.2 L58.8 1190.5 L55.4 1189.7 L52.0 1188.8 L48.7 1187.9 L45.4 1186.9 L42.2 1185.8 L39.1 1184.6 L36.0 1183.3 L32.9 1182.0 L29.9 1180.6 L27.0 1179.1 L24.1 1177.6 L21.4 1176.0 L18.6 1174.3 L16.0 1172.5 L13.4 1170.7 L10.9 1168.8 L8.5 1166.9 L6.1 1164.9 L3.8 1162.8 L1.6 1160.6 L-0.5 1158.4 L-2.5 1156.2 L-4.4 1153.9 L-6.3 1151.5 L-8.1 1149.1 L-9.8 1146.6 L-11.3 1144.1 L-12.9 1141.5 L-14.3 1138.9 L-15.6 1136.3 L-16.8 1133.6Z" fill="none" stroke="#000" stroke-opacity="0.66" stroke-width="0.85"/></g><path d="M39.5 788.0 H316.7" stroke="#000" stroke-opacity="0.5" stroke-width="1.1" fill="none"/><path d="M316.2 788.0 V1063.6" stroke="#444" stroke-opacity="0.8" stroke-width="1" fill="none"/><path d="M46.5 788.0 V1057.1" stroke="#555" stroke-opacity="0.45" stroke-width="1" fill="none"/><path d="M39.5 1057.1 H316.7" stroke="#333" stroke-width="1" fill="none"/><path d="M46.5 1057.6 V1064.3 M113.9 1057.6 V1064.3 M181.3 1057.6 V1064.3 M248.8 1057.6 V1064.3" stroke="#000" stroke-opacity="0.36" stroke-width="0.9" fill="none"/><path d="M39.5 1003.3 H46.5 M39.5 949.5 H46.5 M39.5 895.6 H46.5 M39.5 841.8 H46.5" stroke="#000" stroke-opacity="0.5" stroke-width="0.9" fill="none"/><text transform="translate(37.50 1054.70) scale(0.920 1)" text-anchor="end" class="t">0</text><text transform="translate(37.50 1000.88) scale(0.920 1)" text-anchor="end" class="t">20</text><text transform="translate(37.50 947.06) scale(0.920 1)" text-anchor="end" class="t">40</text><text transform="translate(37.50 893.24) scale(0.920 1)" text-anchor="end" class="t">60</text><text transform="translate(37.50 839.42) scale(0.920 1)" text-anchor="end" class="t">80</text><text transform="translate(37.50 785.60) scale(0.920 1)" text-anchor="end" class="t">100</text><text transform="translate(46.50 1079.80) scale(0.920 1)" text-anchor="middle" class="t">0</text><text transform="translate(113.92 1079.80) scale(0.920 1)" text-anchor="middle" class="t">5</text><text transform="translate(181.35 1079.80) scale(0.920 1)" text-anchor="middle" class="t">10</text><text transform="translate(248.77 1079.80) scale(0.920 1)" text-anchor="middle" class="t">15</text><text transform="translate(316.20 1079.80) scale(0.920 1)" text-anchor="middle" class="t">20</text><text transform="translate(180.85 1098.00) scale(0.910 1)" text-anchor="middle" class="a">A: LCB (% bwoc)</text><text transform="translate(10.3 922.3) rotate(-90) scale(0.91 1)" text-anchor="middle" class="a">B: RCA (% by vol)</text><g clip-path="url(#ce)"><rect x="73.1" y="788.6" width="15.0" height="14.7" fill="#fff" stroke="#555" stroke-width="0.9"/></g><text transform="translate(80.60 800.60) scale(0.880 1)" text-anchor="middle" class="b" font-size="12.9">32</text><g clip-path="url(#ce)"><rect x="176.8" y="816.8" width="15.0" height="14.7" fill="#fff" stroke="#555" stroke-width="0.9"/></g><text transform="translate(184.30 828.80) scale(0.880 1)" text-anchor="middle" class="b" font-size="12.9">33</text><g clip-path="url(#ce)"><rect x="190.7" y="870.0" width="15.0" height="14.7" fill="#fff" stroke="#555" stroke-width="0.9"/></g><text transform="translate(198.20 882.00) scale(0.880 1)" text-anchor="middle" class="b" font-size="12.9">34</text><g clip-path="url(#ce)"><rect x="177.1" y="944.2" width="15.0" height="14.7" fill="#fff" stroke="#555" stroke-width="0.9"/></g><text transform="translate(184.60 956.20) scale(0.880 1)" text-anchor="middle" class="b" font-size="12.9">35</text><rect x="223.9" y="789.6" width="88" height="25.7" fill="#fff" stroke="#555" stroke-width="1"/><rect x="243.4" y="792.7" width="47.5" height="18.3" fill="url(#lg)"/><text transform="translate(224.80 806.80) scale(0.930 1)" text-anchor="start" class="l">10</text><text transform="translate(296.10 806.80) scale(0.930 1)" text-anchor="start" class="l">34</text><text transform="translate(311.40 829.30) scale(1.020 1)" text-anchor="end" class="d" font-size="13.6">50 days</text><text x="162.4" y="1142.0" text-anchor="middle" class="c">(e) 50 days (interpolated)</text></g>
<g><rect x="409.5" y="788.0" width="269.0" height="265.8" fill="url(#gf)"/><g clip-path="url(#cf)"><path d="M183.3 1252.0 L180.2 1244.5 L177.3 1236.9 L174.7 1229.3 L172.3 1221.5 L170.3 1213.7 L168.4 1205.8 L166.9 1197.7 L165.6 1189.7 L164.6 1181.5 L163.9 1173.3 L163.5 1165.0 L163.3 1156.7 L163.4 1148.3 L163.8 1139.9 L164.4 1131.4 L165.3 1122.9 L166.5 1114.4 L168.0 1105.9 L169.7 1097.4 L171.7 1088.8 L174.0 1080.3 L176.5 1071.7 L179.3 1063.2 L182.4 1054.7 L185.7 1046.2 L189.3 1037.7 L193.1 1029.3 L197.2 1020.9 L201.6 1012.6 L206.1 1004.3 L211.0 996.1 L216.1 987.9 L221.4 979.8 L226.9 971.8 L232.7 963.9 L238.7 956.0 L244.9 948.3 L251.3 940.6 L258.0 933.0 L264.9 925.6 L271.9 918.2 L279.2 911.0 L286.7 903.9 L294.3 896.9 L302.1 890.0 L310.1 883.3 L318.3 876.7 L326.7 870.3 L335.2 864.0 L343.9 857.9 L352.7 851.9 L361.6 846.1 L370.7 840.5 L380.0 835.0 L389.3 829.7 L398.8 824.6 L408.4 819.6 L418.1 814.9 L427.9 810.3 L437.8 805.9 L447.7 801.8 L457.8 797.8 L467.9 794.0 L478.1 790.4 L488.3 787.0 L498.6 783.8 L509.0 780.9 L519.3 778.1 L529.7 775.6 L540.2 773.2 L550.6 771.1 L561.1 769.2 L571.5 767.5 L582.0 766.1 L592.4 764.8 L602.8 763.8 L613.2 763.0 L623.5 762.5 L633.8 762.1 L644.1 762.0 L654.3 762.1 L664.4 762.4 L674.5 763.0 L684.5 763.7 L694.4 764.7 L704.2 766.0 L714.0 767.4 L723.6 769.0 L733.1 770.9 L742.5 773.0 L751.7 775.3 L760.9 777.8 L769.9 780.6 L778.7 783.5 L787.5 786.7 L796.0 790.0 L804.4 793.6 L812.6 797.4 L820.7 801.4 L828.6 805.5 L836.3 809.9 L843.8 814.4 L851.1 819.2 L858.2 824.1 L865.2 829.2 L871.9 834.5 L878.4 839.9 L884.7 845.6 L890.7 851.3 L896.6 857.3 L902.2 863.4 L907.6 869.7 L912.7 876.1 L917.6 882.7 L922.3 889.4 L926.7 896.2 L930.8 903.2 L934.7 910.3 L938.4 917.5 L941.8 924.8 L944.9 932.3 L947.8 939.8 L950.4 947.5 L952.7 955.3 L954.8 963.1 L956.6 971.0 L958.2 979.0 L959.4 987.1 L960.4 995.3 L961.2 1003.5 L961.6 1011.8 L961.8 1020.1 L961.7 1028.5 L961.3 1036.9 L960.7 1045.4 L959.7 1053.9 L958.6 1062.4 L957.1 1070.9 L955.4 1079.4 L953.4 1088.0 L951.1 1096.5 L948.6 1105.1 L945.8 1113.6 L942.7 1122.1 L939.4 1130.6 L935.8 1139.0 L931.9 1147.5 L927.9 1155.9 L923.5 1164.2 L918.9 1172.5 L914.1 1180.7 L909.0 1188.9 L903.7 1197.0 L898.2 1205.0 L892.4 1212.9 L886.4 1220.8 L880.2 1228.5 L873.7 1236.2 L867.1 1243.8 L860.2 1251.2 L853.1 1258.6 L845.9 1265.8 L838.4 1272.9 L830.8 1279.9 L822.9 1286.8 L814.9 1293.5 L806.7 1300.1 L798.4 1306.5 L789.9 1312.8 L781.2 1318.9 L772.4 1324.9 L763.4 1330.7 L754.3 1336.3 L745.1 1341.8 L735.7 1347.1 L726.3 1352.2 L716.7 1357.2 L707.0 1361.9 L697.2 1366.5 L687.3 1370.9 L677.3 1375.0 L667.3 1379.0 L657.2 1382.8 L647.0 1386.4 L636.7 1389.8 L626.4 1393.0 L616.1 1395.9 L605.7 1398.7 L595.3 1401.2 L584.9 1403.6 L574.5 1405.7 L564.0 1407.6 L553.6 1409.3 L543.1 1410.7 L532.7 1411.9 L522.3 1413.0 L511.9 1413.8 L501.5 1414.3 L491.2 1414.7 L481.0 1414.8 L470.8 1414.7 L460.6 1414.4 L450.6 1413.8 L440.6 1413.0 L430.7 1412.1 L420.8 1410.8 L411.1 1409.4 L401.5 1407.7 L392.0 1405.9 L382.6 1403.8 L373.3 1401.5 L364.2 1398.9 L355.2 1396.2 L346.3 1393.3 L337.6 1390.1 L329.1 1386.7 L320.7 1383.2 L312.4 1379.4 L304.4 1375.4 L296.5 1371.3 L288.8 1366.9 L281.3 1362.4 L274.0 1357.6 L266.8 1352.7 L259.9 1347.6 L253.2 1342.3 L246.7 1336.9 L240.4 1331.2 L234.3 1325.4 L228.5 1319.5 L222.9 1313.4 L217.5 1307.1 L212.4 1300.7 L207.5 1294.1 L202.8 1287.4 L198.4 1280.6 L194.3 1273.6 L190.3 1266.5 L186.7 1259.3 L183.3 1252.0Z M224.6 1234.1 L221.8 1227.5 L219.2 1220.8 L216.9 1214.0 L214.8 1207.0 L213.0 1200.0 L211.4 1193.0 L210.0 1185.8 L208.9 1178.6 L208.0 1171.4 L207.3 1164.0 L206.9 1156.7 L206.8 1149.2 L206.9 1141.8 L207.2 1134.3 L207.8 1126.7 L208.6 1119.2 L209.6 1111.6 L210.9 1104.0 L212.5 1096.4 L214.3 1088.8 L216.3 1081.2 L218.6 1073.5 L221.0 1065.9 L223.8 1058.4 L226.7 1050.8 L229.9 1043.3 L233.3 1035.8 L237.0 1028.3 L240.9 1020.9 L244.9 1013.5 L249.3 1006.1 L253.8 998.9 L258.5 991.7 L263.5 984.5 L268.6 977.4 L273.9 970.4 L279.5 963.5 L285.2 956.7 L291.2 949.9 L297.3 943.3 L303.6 936.7 L310.0 930.3 L316.7 924.0 L323.5 917.7 L330.5 911.6 L337.6 905.6 L344.9 899.8 L352.4 894.1 L359.9 888.5 L367.7 883.0 L375.5 877.7 L383.5 872.5 L391.6 867.5 L399.9 862.6 L408.2 857.9 L416.6 853.3 L425.2 848.9 L433.8 844.7 L442.5 840.6 L451.4 836.7 L460.2 833.0 L469.2 829.4 L478.2 826.0 L487.3 822.8 L496.4 819.8 L505.6 817.0 L514.8 814.3 L524.0 811.9 L533.3 809.6 L542.6 807.5 L551.9 805.7 L561.2 804.0 L570.5 802.5 L579.8 801.2 L589.1 800.1 L598.4 799.2 L607.7 798.5 L616.9 798.0 L626.1 797.6 L635.2 797.5 L644.3 797.6 L653.4 797.9 L662.3 798.4 L671.2 799.1 L680.1 800.0 L688.8 801.1 L697.5 802.3 L706.0 803.8 L714.5 805.5 L722.9 807.4 L731.1 809.4 L739.3 811.7 L747.3 814.1 L755.2 816.7 L763.0 819.5 L770.6 822.5 L778.1 825.7 L785.4 829.1 L792.6 832.6 L799.6 836.3 L806.5 840.2 L813.2 844.3 L819.7 848.5 L826.0 852.9 L832.2 857.4 L838.2 862.1 L844.0 867.0 L849.6 872.0 L855.0 877.2 L860.2 882.5 L865.2 887.9 L870.0 893.5 L874.6 899.2 L878.9 905.1 L883.1 911.0 L887.0 917.1 L890.7 923.3 L894.2 929.7 L897.5 936.1 L900.5 942.6 L903.3 949.3 L905.8 956.0 L908.2 962.8 L910.3 969.8 L912.1 976.7 L913.7 983.8 L915.1 991.0 L916.2 998.2 L917.1 1005.4 L917.7 1012.8 L918.1 1020.1 L918.3 1027.6 L918.2 1035.0 L917.9 1042.5 L917.3 1050.1 L916.5 1057.6 L915.4 1065.2 L914.1 1072.8 L912.6 1080.4 L910.8 1088.0 L908.8 1095.6 L906.5 1103.2 L904.0 1110.8 L901.3 1118.4 L898.3 1126.0 L895.1 1133.5 L891.7 1141.0 L888.1 1148.5 L884.2 1155.9 L880.1 1163.3 L875.8 1170.6 L871.3 1177.9 L866.6 1185.1 L861.6 1192.3 L856.5 1199.4 L851.1 1206.4 L845.6 1213.3 L839.8 1220.1 L833.9 1226.9 L827.8 1233.5 L821.5 1240.1 L815.0 1246.5 L808.4 1252.8 L801.6 1259.1 L794.6 1265.2 L787.4 1271.2 L780.2 1277.0 L772.7 1282.7 L765.1 1288.3 L757.4 1293.8 L749.5 1299.1 L741.6 1304.3 L733.4 1309.3 L725.2 1314.2 L716.9 1318.9 L708.4 1323.5 L699.9 1327.9 L691.3 1332.1 L682.5 1336.2 L673.7 1340.1 L664.8 1343.8 L655.9 1347.4 L646.9 1350.8 L637.8 1354.0 L628.7 1357.0 L619.5 1359.8 L610.3 1362.4 L601.0 1364.9 L591.8 1367.2 L582.5 1369.2 L573.2 1371.1 L563.8 1372.8 L554.5 1374.3 L545.2 1375.6 L535.9 1376.7 L526.7 1377.6 L517.4 1378.3 L508.2 1378.8 L499.0 1379.1 L489.8 1379.3 L480.8 1379.2 L471.7 1378.9 L462.7 1378.4 L453.8 1377.7 L445.0 1376.8 L436.3 1375.7 L427.6 1374.5 L419.0 1373.0 L410.6 1371.3 L402.2 1369.4 L393.9 1367.4 L385.8 1365.1 L377.8 1362.7 L369.9 1360.1 L362.1 1357.3 L354.5 1354.3 L347.0 1351.1 L339.7 1347.7 L332.5 1344.2 L325.5 1340.5 L318.6 1336.6 L311.9 1332.5 L305.4 1328.3 L299.0 1323.9 L292.9 1319.4 L286.9 1314.7 L281.1 1309.8 L275.5 1304.8 L270.1 1299.6 L264.9 1294.3 L259.9 1288.9 L255.1 1283.3 L250.5 1277.6 L246.1 1271.7 L242.0 1265.8 L238.1 1259.7 L234.4 1253.4 L230.9 1247.1 L227.6 1240.7 L224.6 1234.1Z M271.7 1213.8 L269.3 1208.1 L267.1 1202.3 L265.1 1196.5 L263.3 1190.5 L261.7 1184.5 L260.3 1178.4 L259.1 1172.3 L258.1 1166.1 L257.4 1159.8 L256.8 1153.5 L256.5 1147.1 L256.3 1140.8 L256.4 1134.3 L256.7 1127.9 L257.2 1121.4 L257.9 1114.9 L258.8 1108.4 L259.9 1101.8 L261.3 1095.3 L262.8 1088.7 L264.5 1082.2 L266.5 1075.6 L268.6 1069.1 L271.0 1062.5 L273.5 1056.0 L276.3 1049.6 L279.2 1043.1 L282.4 1036.7 L285.7 1030.3 L289.2 1023.9 L292.9 1017.6 L296.8 1011.3 L300.9 1005.1 L305.1 999.0 L309.6 992.9 L314.2 986.9 L318.9 980.9 L323.9 975.0 L329.0 969.2 L334.2 963.5 L339.7 957.9 L345.2 952.3 L351.0 946.9 L356.8 941.5 L362.8 936.3 L369.0 931.1 L375.2 926.1 L381.7 921.1 L388.2 916.3 L394.8 911.6 L401.6 907.0 L408.5 902.6 L415.4 898.3 L422.5 894.1 L429.7 890.0 L437.0 886.1 L444.3 882.3 L451.8 878.6 L459.3 875.1 L466.8 871.8 L474.5 868.6 L482.2 865.5 L490.0 862.6 L497.8 859.8 L505.6 857.3 L513.5 854.8 L521.5 852.5 L529.4 850.4 L537.4 848.5 L545.4 846.7 L553.4 845.1 L561.4 843.6 L569.4 842.3 L577.4 841.2 L585.4 840.3 L593.4 839.5 L601.4 838.9 L609.3 838.4 L617.2 838.2 L625.1 838.1 L632.9 838.2 L640.7 838.4 L648.4 838.8 L656.1 839.4 L663.7 840.2 L671.2 841.1 L678.7 842.2 L686.0 843.5 L693.3 844.9 L700.5 846.5 L707.6 848.3 L714.7 850.2 L721.6 852.3 L728.4 854.6 L735.0 857.0 L741.6 859.6 L748.0 862.3 L754.4 865.2 L760.5 868.3 L766.6 871.5 L772.5 874.8 L778.2 878.3 L783.9 881.9 L789.3 885.7 L794.6 889.6 L799.8 893.7 L804.8 897.8 L809.6 902.2 L814.2 906.6 L818.7 911.2 L823.0 915.9 L827.1 920.7 L831.1 925.6 L834.8 930.6 L838.4 935.8 L841.8 941.0 L845.0 946.3 L848.0 951.8 L850.8 957.3 L853.4 963.0 L855.8 968.7 L858.0 974.5 L860.0 980.3 L861.8 986.3 L863.4 992.3 L864.8 998.4 L866.0 1004.5 L866.9 1010.7 L867.7 1017.0 L868.2 1023.3 L868.6 1029.6 L868.7 1036.0 L868.6 1042.5 L868.4 1048.9 L867.9 1055.4 L867.2 1061.9 L866.3 1068.4 L865.1 1075.0 L863.8 1081.5 L862.3 1088.1 L860.5 1094.6 L858.6 1101.2 L856.4 1107.7 L854.1 1114.2 L851.5 1120.8 L848.8 1127.2 L845.8 1133.7 L842.7 1140.1 L839.4 1146.5 L835.9 1152.9 L832.2 1159.2 L828.3 1165.4 L824.2 1171.7 L819.9 1177.8 L815.5 1183.9 L810.9 1189.9 L806.1 1195.9 L801.2 1201.8 L796.1 1207.6 L790.8 1213.3 L785.4 1218.9 L779.8 1224.5 L774.1 1229.9 L768.3 1235.3 L762.2 1240.5 L756.1 1245.7 L749.8 1250.7 L743.4 1255.7 L736.9 1260.5 L730.2 1265.2 L723.5 1269.8 L716.6 1274.2 L709.6 1278.5 L702.5 1282.7 L695.4 1286.8 L688.1 1290.7 L680.8 1294.5 L673.3 1298.2 L665.8 1301.7 L658.2 1305.0 L650.6 1308.2 L642.9 1311.3 L635.1 1314.2 L627.3 1316.9 L619.4 1319.5 L611.5 1322.0 L603.6 1324.3 L595.7 1326.4 L587.7 1328.3 L579.7 1330.1 L571.7 1331.7 L563.7 1333.2 L555.6 1334.5 L547.6 1335.6 L539.6 1336.5 L531.7 1337.3 L523.7 1337.9 L515.8 1338.4 L507.8 1338.6 L500.0 1338.7 L492.2 1338.6 L484.4 1338.4 L476.7 1338.0 L469.0 1337.4 L461.4 1336.6 L453.9 1335.7 L446.4 1334.6 L439.0 1333.3 L431.7 1331.9 L424.5 1330.3 L417.4 1328.5 L410.4 1326.6 L403.5 1324.5 L396.7 1322.2 L390.0 1319.8 L383.5 1317.2 L377.0 1314.5 L370.7 1311.6 L364.5 1308.5 L358.5 1305.3 L352.6 1302.0 L346.8 1298.5 L341.2 1294.9 L335.7 1291.1 L330.4 1287.2 L325.3 1283.1 L320.3 1279.0 L315.5 1274.6 L310.8 1270.2 L306.4 1265.6 L302.1 1260.9 L297.9 1256.1 L294.0 1251.2 L290.2 1246.2 L286.7 1241.0 L283.3 1235.8 L280.1 1230.4 L277.1 1225.0 L274.3 1219.5 L271.7 1213.8Z M328.1 1189.5 L326.1 1184.9 L324.3 1180.2 L322.7 1175.5 L321.3 1170.7 L320.0 1165.9 L318.9 1161.0 L317.9 1156.0 L317.1 1151.0 L316.5 1146.0 L316.1 1140.9 L315.8 1135.8 L315.7 1130.6 L315.8 1125.4 L316.0 1120.2 L316.4 1115.0 L317.0 1109.7 L317.7 1104.5 L318.6 1099.2 L319.7 1093.9 L320.9 1088.7 L322.3 1083.4 L323.9 1078.1 L325.6 1072.8 L327.5 1067.6 L329.6 1062.3 L331.8 1057.1 L334.1 1051.9 L336.7 1046.7 L339.4 1041.5 L342.2 1036.4 L345.2 1031.3 L348.3 1026.3 L351.6 1021.3 L355.0 1016.3 L358.6 1011.4 L362.3 1006.6 L366.2 1001.8 L370.1 997.0 L374.2 992.3 L378.5 987.7 L382.9 983.2 L387.4 978.7 L392.0 974.3 L396.7 970.0 L401.5 965.8 L406.5 961.6 L411.5 957.5 L416.7 953.6 L422.0 949.7 L427.3 945.9 L432.8 942.2 L438.3 938.6 L444.0 935.1 L449.7 931.7 L455.4 928.5 L461.3 925.3 L467.2 922.2 L473.2 919.3 L479.3 916.5 L485.4 913.8 L491.6 911.2 L497.8 908.7 L504.0 906.4 L510.3 904.1 L516.7 902.1 L523.0 900.1 L529.4 898.3 L535.8 896.5 L542.3 895.0 L548.7 893.5 L555.2 892.2 L561.6 891.1 L568.1 890.0 L574.5 889.1 L581.0 888.4 L587.4 887.7 L593.9 887.2 L600.3 886.9 L606.6 886.7 L613.0 886.6 L619.3 886.7 L625.5 886.9 L631.8 887.2 L638.0 887.7 L644.1 888.3 L650.1 889.0 L656.2 889.9 L662.1 890.9 L668.0 892.1 L673.8 893.4 L679.5 894.8 L685.2 896.4 L690.7 898.1 L696.2 899.9 L701.6 901.9 L706.9 903.9 L712.1 906.1 L717.2 908.5 L722.2 910.9 L727.0 913.5 L731.8 916.2 L736.4 919.0 L741.0 921.9 L745.4 925.0 L749.6 928.1 L753.8 931.4 L757.8 934.8 L761.7 938.3 L765.4 941.8 L769.1 945.5 L772.5 949.3 L775.9 953.2 L779.0 957.1 L782.1 961.2 L784.9 965.3 L787.7 969.6 L790.2 973.9 L792.7 978.3 L794.9 982.7 L797.0 987.3 L799.0 991.9 L800.7 996.5 L802.3 1001.3 L803.8 1006.1 L805.1 1010.9 L806.2 1015.8 L807.1 1020.8 L807.9 1025.8 L808.5 1030.8 L809.0 1035.9 L809.3 1041.0 L809.4 1046.2 L809.3 1051.4 L809.1 1056.6 L808.7 1061.8 L808.1 1067.0 L807.4 1072.3 L806.5 1077.6 L805.4 1082.9 L804.2 1088.1 L802.8 1093.4 L801.2 1098.7 L799.5 1104.0 L797.6 1109.2 L795.5 1114.5 L793.3 1119.7 L790.9 1124.9 L788.4 1130.1 L785.7 1135.3 L782.9 1140.4 L779.9 1145.5 L776.8 1150.5 L773.5 1155.5 L770.0 1160.5 L766.5 1165.4 L762.8 1170.2 L758.9 1175.0 L754.9 1179.8 L750.8 1184.5 L746.6 1189.1 L742.2 1193.6 L737.7 1198.1 L733.1 1202.5 L728.4 1206.8 L723.5 1211.0 L718.6 1215.2 L713.5 1219.3 L708.4 1223.2 L703.1 1227.1 L697.7 1230.9 L692.3 1234.6 L686.7 1238.2 L681.1 1241.7 L675.4 1245.1 L669.6 1248.3 L663.8 1251.5 L657.8 1254.6 L651.8 1257.5 L645.8 1260.3 L639.7 1263.0 L633.5 1265.6 L627.3 1268.1 L621.0 1270.4 L614.7 1272.6 L608.4 1274.7 L602.0 1276.7 L595.7 1278.5 L589.2 1280.2 L582.8 1281.8 L576.4 1283.3 L569.9 1284.6 L563.4 1285.7 L557.0 1286.8 L550.5 1287.7 L544.1 1288.4 L537.6 1289.1 L531.2 1289.6 L524.8 1289.9 L518.4 1290.1 L512.1 1290.2 L505.8 1290.1 L499.5 1289.9 L493.3 1289.6 L487.1 1289.1 L481.0 1288.5 L474.9 1287.8 L468.9 1286.9 L463.0 1285.8 L457.1 1284.7 L451.3 1283.4 L445.6 1282.0 L439.9 1280.4 L434.3 1278.7 L428.9 1276.9 L423.5 1274.9 L418.2 1272.9 L413.0 1270.7 L407.9 1268.3 L402.9 1265.9 L398.0 1263.3 L393.3 1260.6 L388.6 1257.8 L384.1 1254.9 L379.7 1251.8 L375.4 1248.7 L371.3 1245.4 L367.3 1242.0 L363.4 1238.5 L359.6 1235.0 L356.0 1231.3 L352.5 1227.5 L349.2 1223.6 L346.0 1219.7 L343.0 1215.6 L340.1 1211.5 L337.4 1207.2 L334.8 1202.9 L332.4 1198.5 L330.2 1194.1 L328.1 1189.5Z M403.3 1157.1 L402.0 1154.0 L400.8 1150.8 L399.7 1147.6 L398.7 1144.3 L397.8 1141.0 L397.0 1137.7 L396.4 1134.3 L395.9 1130.9 L395.4 1127.5 L395.1 1124.0 L395.0 1120.6 L394.9 1117.1 L394.9 1113.5 L395.1 1110.0 L395.3 1106.5 L395.7 1102.9 L396.2 1099.3 L396.8 1095.7 L397.6 1092.2 L398.4 1088.6 L399.4 1085.0 L400.4 1081.4 L401.6 1077.8 L402.9 1074.2 L404.3 1070.7 L405.8 1067.1 L407.4 1063.6 L409.1 1060.1 L410.9 1056.6 L412.9 1053.1 L414.9 1049.6 L417.0 1046.2 L419.3 1042.8 L421.6 1039.4 L424.0 1036.1 L426.5 1032.8 L429.1 1029.5 L431.9 1026.3 L434.6 1023.1 L437.5 1020.0 L440.5 1016.9 L443.5 1013.9 L446.7 1010.9 L449.9 1008.0 L453.2 1005.1 L456.5 1002.3 L460.0 999.5 L463.5 996.8 L467.1 994.2 L470.7 991.6 L474.4 989.1 L478.2 986.7 L482.0 984.3 L485.9 982.0 L489.8 979.8 L493.8 977.6 L497.8 975.5 L501.9 973.5 L506.0 971.6 L510.1 969.8 L514.3 968.0 L518.5 966.3 L522.8 964.8 L527.1 963.2 L531.4 961.8 L535.7 960.5 L540.0 959.2 L544.4 958.1 L548.8 957.0 L553.1 956.0 L557.5 955.2 L561.9 954.4 L566.3 953.7 L570.7 953.0 L575.1 952.5 L579.4 952.1 L583.8 951.8 L588.2 951.5 L592.5 951.4 L596.8 951.3 L601.1 951.4 L605.3 951.5 L609.6 951.7 L613.8 952.1 L617.9 952.5 L622.0 953.0 L626.1 953.6 L630.2 954.3 L634.2 955.1 L638.1 956.0 L642.0 956.9 L645.8 958.0 L649.6 959.1 L653.3 960.4 L657.0 961.7 L660.6 963.1 L664.1 964.6 L667.6 966.2 L671.0 967.9 L674.3 969.6 L677.5 971.4 L680.7 973.3 L683.7 975.3 L686.7 977.4 L689.6 979.5 L692.4 981.8 L695.2 984.1 L697.8 986.4 L700.4 988.8 L702.8 991.4 L705.2 993.9 L707.4 996.5 L709.6 999.2 L711.6 1002.0 L713.6 1004.8 L715.4 1007.7 L717.2 1010.6 L718.8 1013.6 L720.4 1016.6 L721.8 1019.7 L723.1 1022.8 L724.3 1026.0 L725.4 1029.2 L726.4 1032.5 L727.3 1035.8 L728.0 1039.1 L728.7 1042.5 L729.2 1045.9 L729.6 1049.3 L729.9 1052.8 L730.1 1056.2 L730.2 1059.7 L730.2 1063.2 L730.0 1066.8 L729.7 1070.3 L729.3 1073.9 L728.8 1077.5 L728.2 1081.0 L727.5 1084.6 L726.7 1088.2 L725.7 1091.8 L724.6 1095.4 L723.5 1099.0 L722.2 1102.5 L720.8 1106.1 L719.3 1109.7 L717.7 1113.2 L716.0 1116.7 L714.1 1120.2 L712.2 1123.7 L710.2 1127.2 L708.0 1130.6 L705.8 1134.0 L703.5 1137.4 L701.1 1140.7 L698.5 1144.0 L695.9 1147.2 L693.2 1150.5 L690.4 1153.6 L687.5 1156.8 L684.6 1159.9 L681.5 1162.9 L678.4 1165.9 L675.2 1168.8 L671.9 1171.7 L668.5 1174.5 L665.1 1177.3 L661.6 1180.0 L658.0 1182.6 L654.4 1185.2 L650.7 1187.7 L646.9 1190.1 L643.1 1192.5 L639.2 1194.8 L635.3 1197.0 L631.3 1199.2 L627.3 1201.3 L623.2 1203.3 L619.1 1205.2 L614.9 1207.0 L610.7 1208.8 L606.5 1210.4 L602.3 1212.0 L598.0 1213.5 L593.7 1215.0 L589.4 1216.3 L585.0 1217.5 L580.7 1218.7 L576.3 1219.8 L571.9 1220.8 L567.5 1221.6 L563.2 1222.4 L558.8 1223.1 L554.4 1223.8 L550.0 1224.3 L545.6 1224.7 L541.3 1225.0 L536.9 1225.3 L532.6 1225.4 L528.3 1225.5 L524.0 1225.4 L519.7 1225.3 L515.5 1225.1 L511.3 1224.7 L507.2 1224.3 L503.0 1223.8 L498.9 1223.2 L494.9 1222.5 L490.9 1221.7 L487.0 1220.8 L483.1 1219.9 L479.2 1218.8 L475.5 1217.7 L471.7 1216.4 L468.1 1215.1 L464.5 1213.7 L461.0 1212.2 L457.5 1210.6 L454.1 1208.9 L450.8 1207.2 L447.6 1205.4 L444.4 1203.4 L441.3 1201.5 L438.4 1199.4 L435.4 1197.2 L432.6 1195.0 L429.9 1192.7 L427.3 1190.4 L424.7 1187.9 L422.3 1185.4 L419.9 1182.9 L417.6 1180.2 L415.5 1177.5 L413.4 1174.8 L411.5 1172.0 L409.6 1169.1 L407.9 1166.2 L406.2 1163.2 L404.7 1160.2 L403.3 1157.1Z" fill="none" stroke="#000" stroke-opacity="0.66" stroke-width="0.85"/></g><path d="M402.5 788.0 H679.0" stroke="#000" stroke-opacity="0.5" stroke-width="1.1" fill="none"/><path d="M678.5 788.0 V1060.3" stroke="#444" stroke-opacity="0.8" stroke-width="1" fill="none"/><path d="M409.5 788.0 V1053.8" stroke="#555" stroke-opacity="0.45" stroke-width="1" fill="none"/><path d="M402.5 1053.8 H679.0" stroke="#333" stroke-width="1" fill="none"/><path d="M409.5 1054.3 V1061.0 M476.8 1054.3 V1061.0 M544.0 1054.3 V1061.0 M611.2 1054.3 V1061.0" stroke="#000" stroke-opacity="0.36" stroke-width="0.9" fill="none"/><path d="M402.5 1000.6 H409.5 M402.5 947.5 H409.5 M402.5 894.3 H409.5 M402.5 841.2 H409.5" stroke="#000" stroke-opacity="0.5" stroke-width="0.9" fill="none"/><text transform="translate(400.50 1051.40) scale(0.920 1)" text-anchor="end" class="t">0</text><text transform="translate(400.50 998.24) scale(0.920 1)" text-anchor="end" class="t">20</text><text transform="translate(400.50 945.08) scale(0.920 1)" text-anchor="end" class="t">40</text><text transform="translate(400.50 891.92) scale(0.920 1)" text-anchor="end" class="t">60</text><text transform="translate(400.50 838.76) scale(0.920 1)" text-anchor="end" class="t">80</text><text transform="translate(400.50 785.60) scale(0.920 1)" text-anchor="end" class="t">100</text><text transform="translate(409.50 1076.50) scale(0.920 1)" text-anchor="middle" class="t">0</text><text transform="translate(476.75 1076.50) scale(0.920 1)" text-anchor="middle" class="t">5</text><text transform="translate(544.00 1076.50) scale(0.920 1)" text-anchor="middle" class="t">10</text><text transform="translate(611.25 1076.50) scale(0.920 1)" text-anchor="middle" class="t">15</text><text transform="translate(678.50 1076.50) scale(0.920 1)" text-anchor="middle" class="t">20</text><text transform="translate(543.50 1094.70) scale(0.910 1)" text-anchor="middle" class="a">A: LCB (% bwoc)</text><text transform="translate(373.3 920.7) rotate(-90) scale(0.91 1)" text-anchor="middle" class="a">B: RCA (% by vol)</text><g clip-path="url(#cf)"><rect x="435.8" y="788.8" width="15.0" height="14.7" fill="#fff" stroke="#555" stroke-width="0.9"/></g><text transform="translate(443.30 800.80) scale(0.880 1)" text-anchor="middle" class="b" font-size="12.9">28</text><g clip-path="url(#cf)"><rect x="520.9" y="796.3" width="15.0" height="14.7" fill="#fff" stroke="#555" stroke-width="0.9"/></g><text transform="translate(528.40 808.30) scale(0.880 1)" text-anchor="middle" class="b" font-size="12.9">29</text><g clip-path="url(#cf)"><rect x="520.9" y="836.3" width="15.0" height="14.7" fill="#fff" stroke="#555" stroke-width="0.9"/></g><text transform="translate(528.40 848.30) scale(0.880 1)" text-anchor="middle" class="b" font-size="12.9">30</text><g clip-path="url(#cf)"><rect x="519.7" y="884.3" width="15.0" height="14.7" fill="#fff" stroke="#555" stroke-width="0.9"/></g><text transform="translate(527.20 896.30) scale(0.880 1)" text-anchor="middle" class="b" font-size="12.9">31</text><g clip-path="url(#cf)"><rect x="512.7" y="951.3" width="15.0" height="14.7" fill="#fff" stroke="#555" stroke-width="0.9"/></g><text transform="translate(520.20 963.30) scale(0.880 1)" text-anchor="middle" class="b" font-size="12.9">32</text><rect x="587.3" y="789.5" width="88" height="25.7" fill="#fff" stroke="#555" stroke-width="1"/><rect x="606.8" y="792.6" width="47.5" height="18.3" fill="url(#lg)"/><text transform="translate(588.20 806.70) scale(0.930 1)" text-anchor="start" class="l">10</text><text transform="translate(659.50 806.70) scale(0.930 1)" text-anchor="start" class="l">34</text><text transform="translate(674.50 829.30) scale(1.020 1)" text-anchor="end" class="d" font-size="13.6">90 days</text><text x="525.0" y="1142.0" text-anchor="middle" class="c">(f) 90 days</text></g>
</svg></body></html>
